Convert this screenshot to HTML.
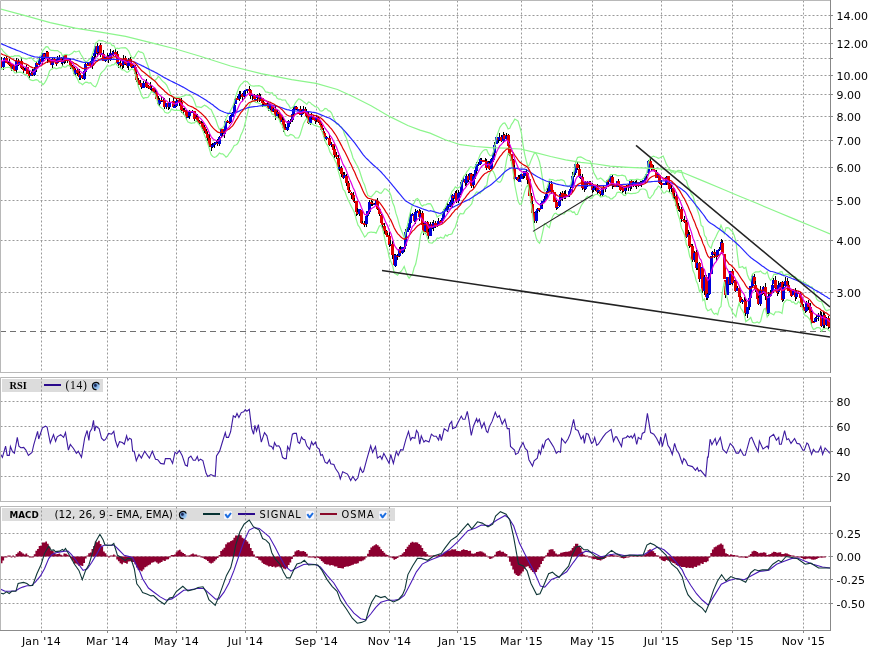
<!DOCTYPE html>
<html><head><meta charset="utf-8"><title>Chart</title>
<style>html,body{margin:0;padding:0;background:#fff;} svg{display:block;}</style>
</head><body><svg width="876" height="655" viewBox="0 0 876 655" shape-rendering="auto"><rect x="0" y="0" width="876" height="655" fill="#fff"/><line x1="0.5" y1="15.5" x2="830" y2="15.5" stroke="#9a9a9a" stroke-width="1" stroke-dasharray="2,2"/><line x1="0.5" y1="28.5" x2="830" y2="28.5" stroke="#9a9a9a" stroke-width="1" stroke-dasharray="2,2"/><line x1="0.5" y1="43.5" x2="830" y2="43.5" stroke="#9a9a9a" stroke-width="1" stroke-dasharray="2,2"/><line x1="0.5" y1="58.5" x2="830" y2="58.5" stroke="#9a9a9a" stroke-width="1" stroke-dasharray="2,2"/><line x1="0.5" y1="75.5" x2="830" y2="75.5" stroke="#9a9a9a" stroke-width="1" stroke-dasharray="2,2"/><line x1="0.5" y1="94.5" x2="830" y2="94.5" stroke="#9a9a9a" stroke-width="1" stroke-dasharray="2,2"/><line x1="0.5" y1="116.5" x2="830" y2="116.5" stroke="#9a9a9a" stroke-width="1" stroke-dasharray="2,2"/><line x1="0.5" y1="140.5" x2="830" y2="140.5" stroke="#9a9a9a" stroke-width="1" stroke-dasharray="2,2"/><line x1="0.5" y1="167.5" x2="830" y2="167.5" stroke="#9a9a9a" stroke-width="1" stroke-dasharray="2,2"/><line x1="0.5" y1="200.5" x2="830" y2="200.5" stroke="#9a9a9a" stroke-width="1" stroke-dasharray="2,2"/><line x1="0.5" y1="240.5" x2="830" y2="240.5" stroke="#9a9a9a" stroke-width="1" stroke-dasharray="2,2"/><line x1="0.5" y1="292.5" x2="830" y2="292.5" stroke="#9a9a9a" stroke-width="1" stroke-dasharray="2,2"/><line x1="41.5" y1="0.5" x2="41.5" y2="372" stroke="#9a9a9a" stroke-width="1" stroke-dasharray="2,2"/><line x1="107.5" y1="0.5" x2="107.5" y2="372" stroke="#9a9a9a" stroke-width="1" stroke-dasharray="2,2"/><line x1="176.5" y1="0.5" x2="176.5" y2="372" stroke="#9a9a9a" stroke-width="1" stroke-dasharray="2,2"/><line x1="245.5" y1="0.5" x2="245.5" y2="372" stroke="#9a9a9a" stroke-width="1" stroke-dasharray="2,2"/><line x1="316.5" y1="0.5" x2="316.5" y2="372" stroke="#9a9a9a" stroke-width="1" stroke-dasharray="2,2"/><line x1="389.5" y1="0.5" x2="389.5" y2="372" stroke="#9a9a9a" stroke-width="1" stroke-dasharray="2,2"/><line x1="457.5" y1="0.5" x2="457.5" y2="372" stroke="#9a9a9a" stroke-width="1" stroke-dasharray="2,2"/><line x1="521.5" y1="0.5" x2="521.5" y2="372" stroke="#9a9a9a" stroke-width="1" stroke-dasharray="2,2"/><line x1="592.5" y1="0.5" x2="592.5" y2="372" stroke="#9a9a9a" stroke-width="1" stroke-dasharray="2,2"/><line x1="661.5" y1="0.5" x2="661.5" y2="372" stroke="#9a9a9a" stroke-width="1" stroke-dasharray="2,2"/><line x1="732.5" y1="0.5" x2="732.5" y2="372" stroke="#9a9a9a" stroke-width="1" stroke-dasharray="2,2"/><line x1="803.5" y1="0.5" x2="803.5" y2="372" stroke="#9a9a9a" stroke-width="1" stroke-dasharray="2,2"/><defs><radialGradient id="glb" cx="0.4" cy="0.4" r="0.7"><stop offset="0" stop-color="#3a5a98"/><stop offset="0.45" stop-color="#80b0e0"/><stop offset="1" stop-color="#b8dcff"/></radialGradient><clipPath id="cm"><rect x="1" y="1" width="829" height="371"/></clipPath><clipPath id="cr"><rect x="1" y="378" width="829" height="123"/></clipPath><clipPath id="cd"><rect x="1" y="507" width="829" height="123"/></clipPath></defs><g clip-path="url(#cm)"><line x1="0" y1="331.5" x2="830" y2="331.5" stroke="#707070" stroke-width="1" stroke-dasharray="6,4"/><g shape-rendering="crispEdges"><path d="M-0.5,57V69" stroke="#000"/><path d="M-2,61h3V65h-3Z" fill="#0000d8"/><path d="M1.5,57V68" stroke="#000"/><path d="M0,61h3V67h-3Z" fill="#e00000"/><path d="M3.5,61V70" stroke="#000"/><path d="M2,61h3V67h-3Z" fill="#0000d8"/><path d="M4.5,57V61" stroke="#000"/><path d="M3,58h3V61h-3Z" fill="#0000d8"/><path d="M6.5,56V63" stroke="#000"/><path d="M5,58h3V63h-3Z" fill="#e00000"/><path d="M8.5,61V64" stroke="#000"/><path d="M7,63h3V64h-3Z" fill="#e00000"/><path d="M9.5,59V66" stroke="#000"/><path d="M8,63h3V65h-3Z" fill="#e00000"/><path d="M11.5,64V71" stroke="#000"/><path d="M10,64h3V69h-3Z" fill="#e00000"/><path d="M13.5,65V69" stroke="#000"/><path d="M12,66h3V69h-3Z" fill="#0000d8"/><path d="M14.5,66V71" stroke="#000"/><path d="M13,66h3V71h-3Z" fill="#e00000"/><path d="M16.5,58V73" stroke="#000"/><path d="M15,61h3V70h-3Z" fill="#0000d8"/><path d="M18.5,59V66" stroke="#000"/><path d="M17,61h3V64h-3Z" fill="#e00000"/><path d="M19.5,62V65" stroke="#000"/><path d="M18,62h3V64h-3Z" fill="#0000d8"/><path d="M21.5,57V69" stroke="#000"/><path d="M20,61h3V68h-3Z" fill="#e00000"/><path d="M23.5,67V73" stroke="#000"/><path d="M22,68h3V70h-3Z" fill="#e00000"/><path d="M24.5,68V71" stroke="#000"/><path d="M23,70h3V71h-3Z" fill="#e00000"/><path d="M26.5,65V71" stroke="#000"/><path d="M25,67h3V71h-3Z" fill="#0000d8"/><path d="M27.5,67V74" stroke="#000"/><path d="M26,67h3V74h-3Z" fill="#e00000"/><path d="M29.5,71V78" stroke="#000"/><path d="M28,74h3V76h-3Z" fill="#e00000"/><path d="M31.5,72V76" stroke="#000"/><path d="M30,73h3V76h-3Z" fill="#0000d8"/><path d="M32.5,69V76" stroke="#000"/><path d="M31,73h3V75h-3Z" fill="#e00000"/><path d="M34.5,67V76" stroke="#000"/><path d="M33,69h3V75h-3Z" fill="#0000d8"/><path d="M36.5,62V72" stroke="#000"/><path d="M35,63h3V69h-3Z" fill="#0000d8"/><path d="M37.5,63V65" stroke="#000"/><path d="M36,63h3V65h-3Z" fill="#e00000"/><path d="M39.5,56V66" stroke="#000"/><path d="M38,59h3V64h-3Z" fill="#0000d8"/><path d="M41.5,58V62" stroke="#000"/><path d="M40,59h3V62h-3Z" fill="#e00000"/><path d="M42.5,53V64" stroke="#000"/><path d="M41,53h3V62h-3Z" fill="#0000d8"/><path d="M44.5,53V59" stroke="#000"/><path d="M43,54h3V57h-3Z" fill="#e00000"/><path d="M46.5,51V59" stroke="#000"/><path d="M45,53h3V57h-3Z" fill="#0000d8"/><path d="M47.5,51V63" stroke="#000"/><path d="M46,52h3V59h-3Z" fill="#e00000"/><path d="M49.5,58V62" stroke="#000"/><path d="M48,59h3V62h-3Z" fill="#e00000"/><path d="M51.5,59V65" stroke="#000"/><path d="M50,61h3V65h-3Z" fill="#e00000"/><path d="M52.5,57V68" stroke="#000"/><path d="M51,59h3V65h-3Z" fill="#0000d8"/><path d="M54.5,57V62" stroke="#000"/><path d="M53,59h3V62h-3Z" fill="#e00000"/><path d="M56.5,60V66" stroke="#000"/><path d="M55,62h3V64h-3Z" fill="#e00000"/><path d="M57.5,56V63" stroke="#000"/><path d="M56,59h3V63h-3Z" fill="#0000d8"/><path d="M59.5,55V62" stroke="#000"/><path d="M58,58h3V60h-3Z" fill="#0000d8"/><path d="M61.5,57V64" stroke="#000"/><path d="M60,58h3V62h-3Z" fill="#e00000"/><path d="M62.5,58V66" stroke="#000"/><path d="M61,62h3V63h-3Z" fill="#0000d8"/><path d="M64.5,55V64" stroke="#000"/><path d="M63,55h3V62h-3Z" fill="#0000d8"/><path d="M65.5,54V63" stroke="#000"/><path d="M64,55h3V59h-3Z" fill="#e00000"/><path d="M67.5,59V63" stroke="#000"/><path d="M66,59h3V60h-3Z" fill="#e00000"/><path d="M69.5,59V64" stroke="#000"/><path d="M68,60h3V61h-3Z" fill="#e00000"/><path d="M70.5,59V69" stroke="#000"/><path d="M69,62h3V66h-3Z" fill="#e00000"/><path d="M72.5,65V70" stroke="#000"/><path d="M71,66h3V68h-3Z" fill="#e00000"/><path d="M74.5,67V75" stroke="#000"/><path d="M73,68h3V74h-3Z" fill="#e00000"/><path d="M75.5,69V76" stroke="#000"/><path d="M74,70h3V74h-3Z" fill="#0000d8"/><path d="M77.5,68V76" stroke="#000"/><path d="M76,70h3V73h-3Z" fill="#e00000"/><path d="M79.5,69V80" stroke="#000"/><path d="M78,73h3V77h-3Z" fill="#e00000"/><path d="M80.5,75V80" stroke="#000"/><path d="M79,75h3V78h-3Z" fill="#0000d8"/><path d="M82.5,75V79" stroke="#000"/><path d="M81,75h3V78h-3Z" fill="#e00000"/><path d="M84.5,69V80" stroke="#000"/><path d="M83,71h3V79h-3Z" fill="#0000d8"/><path d="M85.5,63V76" stroke="#000"/><path d="M84,64h3V72h-3Z" fill="#0000d8"/><path d="M87.5,62V66" stroke="#000"/><path d="M86,64h3V66h-3Z" fill="#e00000"/><path d="M89.5,62V65" stroke="#000"/><path d="M88,63h3V65h-3Z" fill="#0000d8"/><path d="M90.5,61V68" stroke="#000"/><path d="M89,63h3V66h-3Z" fill="#e00000"/><path d="M92.5,56V69" stroke="#000"/><path d="M91,57h3V66h-3Z" fill="#0000d8"/><path d="M94.5,50V59" stroke="#000"/><path d="M93,53h3V56h-3Z" fill="#0000d8"/><path d="M95.5,46V57" stroke="#000"/><path d="M94,46h3V54h-3Z" fill="#0000d8"/><path d="M97.5,43V57" stroke="#000"/><path d="M96,46h3V53h-3Z" fill="#e00000"/><path d="M98.5,46V54" stroke="#000"/><path d="M97,46h3V52h-3Z" fill="#0000d8"/><path d="M100.5,43V57" stroke="#000"/><path d="M99,45h3V55h-3Z" fill="#e00000"/><path d="M102.5,53V54" stroke="#000"/><path d="M101,53h3V55h-3Z" fill="#0000d8"/><path d="M103.5,50V61" stroke="#000"/><path d="M102,54h3V61h-3Z" fill="#e00000"/><path d="M105.5,57V62" stroke="#000"/><path d="M104,57h3V61h-3Z" fill="#0000d8"/><path d="M107.5,53V60" stroke="#000"/><path d="M106,57h3V59h-3Z" fill="#e00000"/><path d="M108.5,55V63" stroke="#000"/><path d="M107,59h3V60h-3Z" fill="#0000d8"/><path d="M110.5,49V61" stroke="#000"/><path d="M109,53h3V59h-3Z" fill="#0000d8"/><path d="M112.5,51V55" stroke="#000"/><path d="M111,53h3V54h-3Z" fill="#e00000"/><path d="M113.5,50V56" stroke="#000"/><path d="M112,52h3V54h-3Z" fill="#0000d8"/><path d="M115.5,48V56" stroke="#000"/><path d="M114,52h3V55h-3Z" fill="#e00000"/><path d="M117.5,51V63" stroke="#000"/><path d="M116,54h3V63h-3Z" fill="#e00000"/><path d="M118.5,62V68" stroke="#000"/><path d="M117,62h3V64h-3Z" fill="#0000d8"/><path d="M120.5,59V68" stroke="#000"/><path d="M119,63h3V65h-3Z" fill="#e00000"/><path d="M122.5,63V69" stroke="#000"/><path d="M121,65h3V66h-3Z" fill="#e00000"/><path d="M123.5,55V68" stroke="#000"/><path d="M122,59h3V65h-3Z" fill="#0000d8"/><path d="M125.5,56V65" stroke="#000"/><path d="M124,58h3V64h-3Z" fill="#e00000"/><path d="M127.5,63V68" stroke="#000"/><path d="M126,64h3V66h-3Z" fill="#e00000"/><path d="M128.5,58V70" stroke="#000"/><path d="M127,60h3V66h-3Z" fill="#0000d8"/><path d="M130.5,57V65" stroke="#000"/><path d="M129,59h3V63h-3Z" fill="#e00000"/><path d="M131.5,60V68" stroke="#000"/><path d="M130,63h3V67h-3Z" fill="#e00000"/><path d="M133.5,65V68" stroke="#000"/><path d="M132,66h3V68h-3Z" fill="#0000d8"/><path d="M135.5,65V76" stroke="#000"/><path d="M134,67h3V74h-3Z" fill="#e00000"/><path d="M136.5,72V82" stroke="#000"/><path d="M135,74h3V80h-3Z" fill="#e00000"/><path d="M138.5,78V85" stroke="#000"/><path d="M137,80h3V84h-3Z" fill="#e00000"/><path d="M140.5,80V85" stroke="#000"/><path d="M139,83h3V85h-3Z" fill="#e00000"/><path d="M141.5,84V89" stroke="#000"/><path d="M140,84h3V87h-3Z" fill="#e00000"/><path d="M143.5,81V88" stroke="#000"/><path d="M142,83h3V88h-3Z" fill="#0000d8"/><path d="M145.5,81V83" stroke="#000"/><path d="M144,83h3V84h-3Z" fill="#0000d8"/><path d="M146.5,79V88" stroke="#000"/><path d="M145,83h3V87h-3Z" fill="#e00000"/><path d="M148.5,85V89" stroke="#000"/><path d="M147,86h3V88h-3Z" fill="#e00000"/><path d="M150.5,82V90" stroke="#000"/><path d="M149,86h3V89h-3Z" fill="#e00000"/><path d="M151.5,85V92" stroke="#000"/><path d="M150,88h3V89h-3Z" fill="#0000d8"/><path d="M153.5,88V93" stroke="#000"/><path d="M152,88h3V92h-3Z" fill="#e00000"/><path d="M155.5,89V93" stroke="#000"/><path d="M154,92h3V93h-3Z" fill="#0000d8"/><path d="M156.5,90V99" stroke="#000"/><path d="M155,92h3V99h-3Z" fill="#e00000"/><path d="M158.5,96V105" stroke="#000"/><path d="M157,99h3V104h-3Z" fill="#e00000"/><path d="M159.5,98V106" stroke="#000"/><path d="M158,100h3V104h-3Z" fill="#0000d8"/><path d="M161.5,97V102" stroke="#000"/><path d="M160,100h3V101h-3Z" fill="#e00000"/><path d="M163.5,98V102" stroke="#000"/><path d="M162,101h3V102h-3Z" fill="#0000d8"/><path d="M164.5,98V109" stroke="#000"/><path d="M163,100h3V107h-3Z" fill="#e00000"/><path d="M166.5,103V109" stroke="#000"/><path d="M165,103h3V107h-3Z" fill="#0000d8"/><path d="M168.5,102V110" stroke="#000"/><path d="M167,103h3V107h-3Z" fill="#e00000"/><path d="M169.5,98V109" stroke="#000"/><path d="M168,102h3V107h-3Z" fill="#0000d8"/><path d="M171.5,102V103" stroke="#000"/><path d="M170,102h3V103h-3Z" fill="#0000d8"/><path d="M173.5,98V107" stroke="#000"/><path d="M172,101h3V107h-3Z" fill="#e00000"/><path d="M174.5,104V108" stroke="#000"/><path d="M173,106h3V108h-3Z" fill="#0000d8"/><path d="M176.5,98V107" stroke="#000"/><path d="M175,101h3V106h-3Z" fill="#0000d8"/><path d="M178.5,100V103" stroke="#000"/><path d="M177,100h3V101h-3Z" fill="#0000d8"/><path d="M179.5,99V106" stroke="#000"/><path d="M178,100h3V102h-3Z" fill="#e00000"/><path d="M181.5,98V113" stroke="#000"/><path d="M180,102h3V110h-3Z" fill="#e00000"/><path d="M183.5,108V115" stroke="#000"/><path d="M182,110h3V111h-3Z" fill="#e00000"/><path d="M184.5,108V112" stroke="#000"/><path d="M183,110h3V112h-3Z" fill="#e00000"/><path d="M186.5,110V120" stroke="#000"/><path d="M185,111h3V117h-3Z" fill="#e00000"/><path d="M188.5,114V117" stroke="#000"/><path d="M187,117h3V118h-3Z" fill="#0000d8"/><path d="M189.5,110V119" stroke="#000"/><path d="M188,111h3V116h-3Z" fill="#0000d8"/><path d="M191.5,112V112" stroke="#000"/><path d="M190,112h3V113h-3Z" fill="#e00000"/><path d="M192.5,110V112" stroke="#000"/><path d="M191,112h3V113h-3Z" fill="#0000d8"/><path d="M194.5,111V121" stroke="#000"/><path d="M193,111h3V119h-3Z" fill="#e00000"/><path d="M196.5,114V122" stroke="#000"/><path d="M195,117h3V118h-3Z" fill="#0000d8"/><path d="M197.5,114V122" stroke="#000"/><path d="M196,117h3V121h-3Z" fill="#e00000"/><path d="M199.5,120V125" stroke="#000"/><path d="M198,121h3V123h-3Z" fill="#e00000"/><path d="M201.5,121V125" stroke="#000"/><path d="M200,123h3V124h-3Z" fill="#e00000"/><path d="M202.5,122V129" stroke="#000"/><path d="M201,123h3V128h-3Z" fill="#e00000"/><path d="M204.5,125V133" stroke="#000"/><path d="M203,127h3V131h-3Z" fill="#e00000"/><path d="M206.5,129V135" stroke="#000"/><path d="M205,131h3V134h-3Z" fill="#e00000"/><path d="M207.5,132V141" stroke="#000"/><path d="M206,134h3V138h-3Z" fill="#e00000"/><path d="M209.5,134V147" stroke="#000"/><path d="M208,138h3V146h-3Z" fill="#e00000"/><path d="M211.5,144V151" stroke="#000"/><path d="M210,146h3V147h-3Z" fill="#e00000"/><path d="M212.5,143V148" stroke="#000"/><path d="M211,145h3V147h-3Z" fill="#0000d8"/><path d="M214.5,142V148" stroke="#000"/><path d="M213,143h3V145h-3Z" fill="#0000d8"/><path d="M216.5,140V144" stroke="#000"/><path d="M215,142h3V144h-3Z" fill="#0000d8"/><path d="M217.5,139V146" stroke="#000"/><path d="M216,143h3V144h-3Z" fill="#e00000"/><path d="M219.5,136V146" stroke="#000"/><path d="M218,137h3V144h-3Z" fill="#0000d8"/><path d="M221.5,128V138" stroke="#000"/><path d="M220,129h3V136h-3Z" fill="#0000d8"/><path d="M222.5,129V136" stroke="#000"/><path d="M221,129h3V133h-3Z" fill="#e00000"/><path d="M224.5,128V138" stroke="#000"/><path d="M223,130h3V134h-3Z" fill="#0000d8"/><path d="M225.5,119V133" stroke="#000"/><path d="M224,121h3V130h-3Z" fill="#0000d8"/><path d="M227.5,120V123" stroke="#000"/><path d="M226,121h3V122h-3Z" fill="#e00000"/><path d="M229.5,118V124" stroke="#000"/><path d="M228,121h3V123h-3Z" fill="#e00000"/><path d="M230.5,115V123" stroke="#000"/><path d="M229,116h3V122h-3Z" fill="#0000d8"/><path d="M232.5,112V117" stroke="#000"/><path d="M231,114h3V117h-3Z" fill="#0000d8"/><path d="M234.5,103V113" stroke="#000"/><path d="M233,105h3V113h-3Z" fill="#0000d8"/><path d="M235.5,97V104" stroke="#000"/><path d="M234,99h3V104h-3Z" fill="#0000d8"/><path d="M237.5,96V100" stroke="#000"/><path d="M236,98h3V100h-3Z" fill="#e00000"/><path d="M239.5,91V101" stroke="#000"/><path d="M238,94h3V99h-3Z" fill="#0000d8"/><path d="M240.5,91V99" stroke="#000"/><path d="M239,94h3V95h-3Z" fill="#0000d8"/><path d="M242.5,93V101" stroke="#000"/><path d="M241,94h3V97h-3Z" fill="#e00000"/><path d="M244.5,91V99" stroke="#000"/><path d="M243,91h3V96h-3Z" fill="#0000d8"/><path d="M245.5,90V94" stroke="#000"/><path d="M244,90h3V91h-3Z" fill="#0000d8"/><path d="M247.5,89V93" stroke="#000"/><path d="M246,89h3V91h-3Z" fill="#0000d8"/><path d="M249.5,86V90" stroke="#000"/><path d="M248,89h3V91h-3Z" fill="#e00000"/><path d="M250.5,89V99" stroke="#000"/><path d="M249,90h3V96h-3Z" fill="#e00000"/><path d="M252.5,95V100" stroke="#000"/><path d="M251,95h3V96h-3Z" fill="#0000d8"/><path d="M254.5,94V99" stroke="#000"/><path d="M253,95h3V99h-3Z" fill="#e00000"/><path d="M255.5,99V101" stroke="#000"/><path d="M254,99h3V100h-3Z" fill="#0000d8"/><path d="M257.5,94V102" stroke="#000"/><path d="M256,95h3V98h-3Z" fill="#0000d8"/><path d="M259.5,93V102" stroke="#000"/><path d="M258,95h3V99h-3Z" fill="#e00000"/><path d="M260.5,94V101" stroke="#000"/><path d="M259,98h3V99h-3Z" fill="#0000d8"/><path d="M262.5,98V107" stroke="#000"/><path d="M261,98h3V103h-3Z" fill="#e00000"/><path d="M263.5,101V106" stroke="#000"/><path d="M262,102h3V104h-3Z" fill="#e00000"/><path d="M265.5,103V105" stroke="#000"/><path d="M264,103h3V105h-3Z" fill="#e00000"/><path d="M267.5,101V107" stroke="#000"/><path d="M266,105h3V106h-3Z" fill="#e00000"/><path d="M268.5,103V111" stroke="#000"/><path d="M267,104h3V108h-3Z" fill="#e00000"/><path d="M270.5,104V111" stroke="#000"/><path d="M269,105h3V109h-3Z" fill="#0000d8"/><path d="M272.5,105V112" stroke="#000"/><path d="M271,106h3V112h-3Z" fill="#e00000"/><path d="M273.5,108V112" stroke="#000"/><path d="M272,109h3V111h-3Z" fill="#0000d8"/><path d="M275.5,105V120" stroke="#000"/><path d="M274,109h3V116h-3Z" fill="#e00000"/><path d="M277.5,110V116" stroke="#000"/><path d="M276,112h3V116h-3Z" fill="#0000d8"/><path d="M278.5,112V118" stroke="#000"/><path d="M277,112h3V114h-3Z" fill="#e00000"/><path d="M280.5,113V123" stroke="#000"/><path d="M279,114h3V121h-3Z" fill="#e00000"/><path d="M282.5,116V122" stroke="#000"/><path d="M281,120h3V122h-3Z" fill="#0000d8"/><path d="M283.5,117V132" stroke="#000"/><path d="M282,120h3V128h-3Z" fill="#e00000"/><path d="M285.5,124V130" stroke="#000"/><path d="M284,128h3V130h-3Z" fill="#e00000"/><path d="M287.5,125V131" stroke="#000"/><path d="M286,127h3V130h-3Z" fill="#0000d8"/><path d="M288.5,120V128" stroke="#000"/><path d="M287,121h3V127h-3Z" fill="#0000d8"/><path d="M290.5,119V124" stroke="#000"/><path d="M289,121h3V122h-3Z" fill="#0000d8"/><path d="M292.5,113V122" stroke="#000"/><path d="M291,114h3V120h-3Z" fill="#0000d8"/><path d="M293.5,107V118" stroke="#000"/><path d="M292,109h3V114h-3Z" fill="#0000d8"/><path d="M295.5,106V110" stroke="#000"/><path d="M294,106h3V110h-3Z" fill="#0000d8"/><path d="M296.5,106V110" stroke="#000"/><path d="M295,107h3V109h-3Z" fill="#e00000"/><path d="M298.5,109V110" stroke="#000"/><path d="M297,109h3V111h-3Z" fill="#0000d8"/><path d="M300.5,106V115" stroke="#000"/><path d="M299,109h3V115h-3Z" fill="#e00000"/><path d="M301.5,110V117" stroke="#000"/><path d="M300,111h3V115h-3Z" fill="#0000d8"/><path d="M303.5,106V114" stroke="#000"/><path d="M302,109h3V111h-3Z" fill="#0000d8"/><path d="M305.5,107V114" stroke="#000"/><path d="M304,109h3V112h-3Z" fill="#e00000"/><path d="M306.5,109V118" stroke="#000"/><path d="M305,112h3V116h-3Z" fill="#e00000"/><path d="M308.5,112V124" stroke="#000"/><path d="M307,115h3V123h-3Z" fill="#e00000"/><path d="M310.5,116V125" stroke="#000"/><path d="M309,117h3V123h-3Z" fill="#0000d8"/><path d="M311.5,113V119" stroke="#000"/><path d="M310,116h3V118h-3Z" fill="#0000d8"/><path d="M313.5,115V120" stroke="#000"/><path d="M312,117h3V120h-3Z" fill="#e00000"/><path d="M315.5,118V124" stroke="#000"/><path d="M314,119h3V121h-3Z" fill="#e00000"/><path d="M316.5,115V122" stroke="#000"/><path d="M315,117h3V120h-3Z" fill="#0000d8"/><path d="M318.5,117V123" stroke="#000"/><path d="M317,118h3V122h-3Z" fill="#e00000"/><path d="M320.5,120V126" stroke="#000"/><path d="M319,122h3V125h-3Z" fill="#e00000"/><path d="M321.5,124V131" stroke="#000"/><path d="M320,125h3V130h-3Z" fill="#e00000"/><path d="M323.5,128V135" stroke="#000"/><path d="M322,131h3V133h-3Z" fill="#e00000"/><path d="M324.5,132V141" stroke="#000"/><path d="M323,133h3V137h-3Z" fill="#e00000"/><path d="M326.5,136V140" stroke="#000"/><path d="M325,137h3V139h-3Z" fill="#0000d8"/><path d="M328.5,138V139" stroke="#000"/><path d="M327,138h3V139h-3Z" fill="#e00000"/><path d="M329.5,135V146" stroke="#000"/><path d="M328,138h3V145h-3Z" fill="#e00000"/><path d="M331.5,142V147" stroke="#000"/><path d="M330,144h3V145h-3Z" fill="#0000d8"/><path d="M333.5,144V151" stroke="#000"/><path d="M332,144h3V150h-3Z" fill="#e00000"/><path d="M334.5,146V158" stroke="#000"/><path d="M333,149h3V155h-3Z" fill="#e00000"/><path d="M336.5,152V159" stroke="#000"/><path d="M335,155h3V157h-3Z" fill="#e00000"/><path d="M338.5,155V170" stroke="#000"/><path d="M337,158h3V167h-3Z" fill="#e00000"/><path d="M339.5,165V171" stroke="#000"/><path d="M338,167h3V169h-3Z" fill="#0000d8"/><path d="M341.5,166V177" stroke="#000"/><path d="M340,168h3V174h-3Z" fill="#e00000"/><path d="M343.5,172V179" stroke="#000"/><path d="M342,174h3V178h-3Z" fill="#e00000"/><path d="M344.5,172V178" stroke="#000"/><path d="M343,175h3V178h-3Z" fill="#0000d8"/><path d="M346.5,174V186" stroke="#000"/><path d="M345,176h3V183h-3Z" fill="#e00000"/><path d="M348.5,181V193" stroke="#000"/><path d="M347,183h3V190h-3Z" fill="#e00000"/><path d="M349.5,187V193" stroke="#000"/><path d="M348,190h3V192h-3Z" fill="#e00000"/><path d="M351.5,192V199" stroke="#000"/><path d="M350,193h3V195h-3Z" fill="#e00000"/><path d="M353.5,192V201" stroke="#000"/><path d="M352,195h3V200h-3Z" fill="#e00000"/><path d="M354.5,198V203" stroke="#000"/><path d="M353,201h3V202h-3Z" fill="#e00000"/><path d="M356.5,201V216" stroke="#000"/><path d="M355,201h3V212h-3Z" fill="#e00000"/><path d="M357.5,208V215" stroke="#000"/><path d="M356,212h3V214h-3Z" fill="#e00000"/><path d="M359.5,209V216" stroke="#000"/><path d="M358,209h3V214h-3Z" fill="#0000d8"/><path d="M361.5,210V224" stroke="#000"/><path d="M360,210h3V223h-3Z" fill="#e00000"/><path d="M362.5,221V224" stroke="#000"/><path d="M361,223h3V224h-3Z" fill="#e00000"/><path d="M364.5,221V227" stroke="#000"/><path d="M363,223h3V225h-3Z" fill="#e00000"/><path d="M366.5,215V227" stroke="#000"/><path d="M365,216h3V224h-3Z" fill="#0000d8"/><path d="M367.5,211V217" stroke="#000"/><path d="M366,211h3V216h-3Z" fill="#0000d8"/><path d="M369.5,200V214" stroke="#000"/><path d="M368,202h3V212h-3Z" fill="#0000d8"/><path d="M371.5,200V206" stroke="#000"/><path d="M370,202h3V204h-3Z" fill="#e00000"/><path d="M372.5,201V206" stroke="#000"/><path d="M371,203h3V204h-3Z" fill="#e00000"/><path d="M374.5,203V205" stroke="#000"/><path d="M373,204h3V205h-3Z" fill="#0000d8"/><path d="M376.5,200V204" stroke="#000"/><path d="M375,200h3V204h-3Z" fill="#0000d8"/><path d="M377.5,198V210" stroke="#000"/><path d="M376,201h3V209h-3Z" fill="#e00000"/><path d="M379.5,208V216" stroke="#000"/><path d="M378,209h3V214h-3Z" fill="#e00000"/><path d="M381.5,214V223" stroke="#000"/><path d="M380,215h3V223h-3Z" fill="#e00000"/><path d="M382.5,223V229" stroke="#000"/><path d="M381,223h3V225h-3Z" fill="#e00000"/><path d="M384.5,223V234" stroke="#000"/><path d="M383,226h3V231h-3Z" fill="#e00000"/><path d="M386.5,230V236" stroke="#000"/><path d="M385,231h3V235h-3Z" fill="#e00000"/><path d="M387.5,233V237" stroke="#000"/><path d="M386,235h3V237h-3Z" fill="#e00000"/><path d="M389.5,232V247" stroke="#000"/><path d="M388,236h3V245h-3Z" fill="#e00000"/><path d="M390.5,240V246" stroke="#000"/><path d="M389,244h3V245h-3Z" fill="#0000d8"/><path d="M392.5,241V259" stroke="#000"/><path d="M391,244h3V255h-3Z" fill="#e00000"/><path d="M394.5,254V266" stroke="#000"/><path d="M393,255h3V265h-3Z" fill="#e00000"/><path d="M395.5,254V267" stroke="#000"/><path d="M394,255h3V266h-3Z" fill="#0000d8"/><path d="M397.5,254V260" stroke="#000"/><path d="M396,256h3V257h-3Z" fill="#e00000"/><path d="M399.5,247V257" stroke="#000"/><path d="M398,249h3V256h-3Z" fill="#0000d8"/><path d="M400.5,246V253" stroke="#000"/><path d="M399,250h3V253h-3Z" fill="#e00000"/><path d="M402.5,247V254" stroke="#000"/><path d="M401,247h3V253h-3Z" fill="#0000d8"/><path d="M404.5,246V252" stroke="#000"/><path d="M403,247h3V249h-3Z" fill="#0000d8"/><path d="M405.5,229V247" stroke="#000"/><path d="M404,232h3V246h-3Z" fill="#0000d8"/><path d="M407.5,227V232" stroke="#000"/><path d="M406,228h3V232h-3Z" fill="#0000d8"/><path d="M409.5,222V230" stroke="#000"/><path d="M408,223h3V228h-3Z" fill="#0000d8"/><path d="M410.5,212V224" stroke="#000"/><path d="M409,216h3V223h-3Z" fill="#0000d8"/><path d="M412.5,213V216" stroke="#000"/><path d="M411,214h3V216h-3Z" fill="#0000d8"/><path d="M414.5,213V222" stroke="#000"/><path d="M413,215h3V221h-3Z" fill="#e00000"/><path d="M415.5,209V224" stroke="#000"/><path d="M414,212h3V221h-3Z" fill="#0000d8"/><path d="M417.5,210V213" stroke="#000"/><path d="M416,211h3V213h-3Z" fill="#0000d8"/><path d="M419.5,209V221" stroke="#000"/><path d="M418,211h3V217h-3Z" fill="#e00000"/><path d="M420.5,210V218" stroke="#000"/><path d="M419,214h3V217h-3Z" fill="#0000d8"/><path d="M422.5,211V228" stroke="#000"/><path d="M421,213h3V225h-3Z" fill="#e00000"/><path d="M423.5,223V235" stroke="#000"/><path d="M422,225h3V232h-3Z" fill="#e00000"/><path d="M425.5,221V234" stroke="#000"/><path d="M424,222h3V231h-3Z" fill="#0000d8"/><path d="M427.5,221V234" stroke="#000"/><path d="M426,222h3V233h-3Z" fill="#e00000"/><path d="M428.5,229V239" stroke="#000"/><path d="M427,232h3V236h-3Z" fill="#e00000"/><path d="M430.5,222V236" stroke="#000"/><path d="M429,224h3V236h-3Z" fill="#0000d8"/><path d="M432.5,222V229" stroke="#000"/><path d="M431,224h3V228h-3Z" fill="#e00000"/><path d="M433.5,220V231" stroke="#000"/><path d="M432,223h3V228h-3Z" fill="#0000d8"/><path d="M435.5,221V228" stroke="#000"/><path d="M434,223h3V225h-3Z" fill="#e00000"/><path d="M437.5,223V227" stroke="#000"/><path d="M436,225h3V226h-3Z" fill="#e00000"/><path d="M438.5,218V226" stroke="#000"/><path d="M437,221h3V225h-3Z" fill="#0000d8"/><path d="M440.5,220V221" stroke="#000"/><path d="M439,221h3V223h-3Z" fill="#e00000"/><path d="M442.5,218V223" stroke="#000"/><path d="M441,218h3V221h-3Z" fill="#0000d8"/><path d="M443.5,209V219" stroke="#000"/><path d="M442,211h3V219h-3Z" fill="#0000d8"/><path d="M445.5,207V211" stroke="#000"/><path d="M444,209h3V211h-3Z" fill="#0000d8"/><path d="M447.5,202V212" stroke="#000"/><path d="M446,206h3V209h-3Z" fill="#0000d8"/><path d="M448.5,204V208" stroke="#000"/><path d="M447,205h3V207h-3Z" fill="#0000d8"/><path d="M450.5,200V207" stroke="#000"/><path d="M449,202h3V206h-3Z" fill="#0000d8"/><path d="M452.5,194V207" stroke="#000"/><path d="M451,195h3V203h-3Z" fill="#0000d8"/><path d="M453.5,196V201" stroke="#000"/><path d="M452,196h3V198h-3Z" fill="#e00000"/><path d="M455.5,191V199" stroke="#000"/><path d="M454,193h3V199h-3Z" fill="#0000d8"/><path d="M456.5,190V203" stroke="#000"/><path d="M455,193h3V201h-3Z" fill="#e00000"/><path d="M458.5,190V203" stroke="#000"/><path d="M457,193h3V201h-3Z" fill="#0000d8"/><path d="M460.5,188V195" stroke="#000"/><path d="M459,192h3V194h-3Z" fill="#0000d8"/><path d="M461.5,180V192" stroke="#000"/><path d="M460,182h3V192h-3Z" fill="#0000d8"/><path d="M463.5,176V182" stroke="#000"/><path d="M462,179h3V182h-3Z" fill="#0000d8"/><path d="M465.5,177V186" stroke="#000"/><path d="M464,180h3V183h-3Z" fill="#e00000"/><path d="M466.5,174V187" stroke="#000"/><path d="M465,176h3V183h-3Z" fill="#0000d8"/><path d="M468.5,174V182" stroke="#000"/><path d="M467,176h3V180h-3Z" fill="#e00000"/><path d="M470.5,173V183" stroke="#000"/><path d="M469,173h3V180h-3Z" fill="#0000d8"/><path d="M471.5,173V188" stroke="#000"/><path d="M470,174h3V186h-3Z" fill="#e00000"/><path d="M473.5,174V188" stroke="#000"/><path d="M472,176h3V185h-3Z" fill="#0000d8"/><path d="M475.5,169V179" stroke="#000"/><path d="M474,170h3V176h-3Z" fill="#0000d8"/><path d="M476.5,162V174" stroke="#000"/><path d="M475,164h3V171h-3Z" fill="#0000d8"/><path d="M478.5,162V166" stroke="#000"/><path d="M477,164h3V165h-3Z" fill="#0000d8"/><path d="M480.5,158V165" stroke="#000"/><path d="M479,159h3V164h-3Z" fill="#0000d8"/><path d="M481.5,158V161" stroke="#000"/><path d="M480,160h3V161h-3Z" fill="#e00000"/><path d="M483.5,160V162" stroke="#000"/><path d="M482,160h3V162h-3Z" fill="#e00000"/><path d="M485.5,158V163" stroke="#000"/><path d="M484,161h3V162h-3Z" fill="#e00000"/><path d="M486.5,159V170" stroke="#000"/><path d="M485,161h3V168h-3Z" fill="#e00000"/><path d="M488.5,161V168" stroke="#000"/><path d="M487,162h3V167h-3Z" fill="#0000d8"/><path d="M489.5,161V170" stroke="#000"/><path d="M488,163h3V169h-3Z" fill="#e00000"/><path d="M491.5,158V170" stroke="#000"/><path d="M490,159h3V169h-3Z" fill="#0000d8"/><path d="M493.5,152V162" stroke="#000"/><path d="M492,153h3V160h-3Z" fill="#0000d8"/><path d="M494.5,142V156" stroke="#000"/><path d="M493,145h3V153h-3Z" fill="#0000d8"/><path d="M496.5,137V144" stroke="#000"/><path d="M495,137h3V144h-3Z" fill="#0000d8"/><path d="M498.5,137V143" stroke="#000"/><path d="M497,138h3V140h-3Z" fill="#e00000"/><path d="M499.5,133V141" stroke="#000"/><path d="M498,137h3V140h-3Z" fill="#0000d8"/><path d="M501.5,135V142" stroke="#000"/><path d="M500,137h3V141h-3Z" fill="#e00000"/><path d="M503.5,132V143" stroke="#000"/><path d="M502,135h3V141h-3Z" fill="#0000d8"/><path d="M504.5,134V139" stroke="#000"/><path d="M503,135h3V139h-3Z" fill="#e00000"/><path d="M506.5,133V140" stroke="#000"/><path d="M505,136h3V139h-3Z" fill="#0000d8"/><path d="M508.5,134V148" stroke="#000"/><path d="M507,135h3V146h-3Z" fill="#e00000"/><path d="M509.5,142V156" stroke="#000"/><path d="M508,146h3V155h-3Z" fill="#e00000"/><path d="M511.5,154V161" stroke="#000"/><path d="M510,154h3V161h-3Z" fill="#e00000"/><path d="M513.5,159V171" stroke="#000"/><path d="M512,160h3V168h-3Z" fill="#e00000"/><path d="M514.5,165V183" stroke="#000"/><path d="M513,168h3V179h-3Z" fill="#e00000"/><path d="M516.5,177V180" stroke="#000"/><path d="M515,177h3V179h-3Z" fill="#0000d8"/><path d="M518.5,175V182" stroke="#000"/><path d="M517,177h3V181h-3Z" fill="#e00000"/><path d="M519.5,175V182" stroke="#000"/><path d="M518,179h3V182h-3Z" fill="#0000d8"/><path d="M521.5,174V179" stroke="#000"/><path d="M520,174h3V179h-3Z" fill="#0000d8"/><path d="M523.5,174V179" stroke="#000"/><path d="M522,174h3V176h-3Z" fill="#e00000"/><path d="M524.5,171V178" stroke="#000"/><path d="M523,171h3V176h-3Z" fill="#0000d8"/><path d="M526.5,169V175" stroke="#000"/><path d="M525,172h3V173h-3Z" fill="#e00000"/><path d="M527.5,173V184" stroke="#000"/><path d="M526,173h3V180h-3Z" fill="#e00000"/><path d="M529.5,179V196" stroke="#000"/><path d="M528,179h3V196h-3Z" fill="#e00000"/><path d="M531.5,193V205" stroke="#000"/><path d="M530,196h3V203h-3Z" fill="#e00000"/><path d="M532.5,201V215" stroke="#000"/><path d="M531,204h3V213h-3Z" fill="#e00000"/><path d="M534.5,212V223" stroke="#000"/><path d="M533,213h3V221h-3Z" fill="#e00000"/><path d="M536.5,210V223" stroke="#000"/><path d="M535,211h3V221h-3Z" fill="#0000d8"/><path d="M537.5,208V213" stroke="#000"/><path d="M536,209h3V211h-3Z" fill="#0000d8"/><path d="M539.5,208V212" stroke="#000"/><path d="M538,208h3V210h-3Z" fill="#e00000"/><path d="M541.5,201V209" stroke="#000"/><path d="M540,203h3V209h-3Z" fill="#0000d8"/><path d="M542.5,201V206" stroke="#000"/><path d="M541,201h3V203h-3Z" fill="#0000d8"/><path d="M544.5,196V202" stroke="#000"/><path d="M543,199h3V201h-3Z" fill="#0000d8"/><path d="M546.5,191V200" stroke="#000"/><path d="M545,194h3V199h-3Z" fill="#0000d8"/><path d="M547.5,188V193" stroke="#000"/><path d="M546,191h3V193h-3Z" fill="#0000d8"/><path d="M549.5,181V192" stroke="#000"/><path d="M548,184h3V192h-3Z" fill="#0000d8"/><path d="M551.5,181V194" stroke="#000"/><path d="M550,184h3V190h-3Z" fill="#e00000"/><path d="M552.5,190V192" stroke="#000"/><path d="M551,190h3V192h-3Z" fill="#e00000"/><path d="M554.5,192V202" stroke="#000"/><path d="M553,192h3V202h-3Z" fill="#e00000"/><path d="M556.5,200V210" stroke="#000"/><path d="M555,202h3V208h-3Z" fill="#e00000"/><path d="M557.5,207V209" stroke="#000"/><path d="M556,207h3V208h-3Z" fill="#0000d8"/><path d="M559.5,199V207" stroke="#000"/><path d="M558,200h3V206h-3Z" fill="#0000d8"/><path d="M560.5,192V201" stroke="#000"/><path d="M559,194h3V200h-3Z" fill="#0000d8"/><path d="M562.5,191V201" stroke="#000"/><path d="M561,193h3V197h-3Z" fill="#e00000"/><path d="M564.5,191V199" stroke="#000"/><path d="M563,195h3V197h-3Z" fill="#0000d8"/><path d="M565.5,190V199" stroke="#000"/><path d="M564,194h3V196h-3Z" fill="#e00000"/><path d="M567.5,195V196" stroke="#000"/><path d="M566,195h3V197h-3Z" fill="#0000d8"/><path d="M569.5,191V197" stroke="#000"/><path d="M568,191h3V195h-3Z" fill="#0000d8"/><path d="M570.5,187V192" stroke="#000"/><path d="M569,189h3V192h-3Z" fill="#0000d8"/><path d="M572.5,172V192" stroke="#000"/><path d="M571,176h3V188h-3Z" fill="#0000d8"/><path d="M574.5,171V177" stroke="#000"/><path d="M573,173h3V175h-3Z" fill="#0000d8"/><path d="M575.5,161V175" stroke="#000"/><path d="M574,164h3V173h-3Z" fill="#0000d8"/><path d="M577.5,162V170" stroke="#000"/><path d="M576,164h3V168h-3Z" fill="#e00000"/><path d="M579.5,165V176" stroke="#000"/><path d="M578,169h3V176h-3Z" fill="#e00000"/><path d="M580.5,174V179" stroke="#000"/><path d="M579,176h3V178h-3Z" fill="#0000d8"/><path d="M582.5,174V190" stroke="#000"/><path d="M581,177h3V188h-3Z" fill="#e00000"/><path d="M584.5,185V192" stroke="#000"/><path d="M583,187h3V189h-3Z" fill="#e00000"/><path d="M585.5,181V190" stroke="#000"/><path d="M584,182h3V189h-3Z" fill="#0000d8"/><path d="M587.5,181V187" stroke="#000"/><path d="M586,182h3V184h-3Z" fill="#0000d8"/><path d="M589.5,181V184" stroke="#000"/><path d="M588,183h3V184h-3Z" fill="#e00000"/><path d="M590.5,181V185" stroke="#000"/><path d="M589,184h3V185h-3Z" fill="#e00000"/><path d="M592.5,183V193" stroke="#000"/><path d="M591,184h3V190h-3Z" fill="#e00000"/><path d="M593.5,186V192" stroke="#000"/><path d="M592,188h3V190h-3Z" fill="#0000d8"/><path d="M595.5,186V191" stroke="#000"/><path d="M594,186h3V188h-3Z" fill="#0000d8"/><path d="M597.5,184V195" stroke="#000"/><path d="M596,187h3V192h-3Z" fill="#e00000"/><path d="M598.5,190V193" stroke="#000"/><path d="M597,190h3V192h-3Z" fill="#0000d8"/><path d="M600.5,191V197" stroke="#000"/><path d="M599,191h3V194h-3Z" fill="#e00000"/><path d="M602.5,188V196" stroke="#000"/><path d="M601,188h3V195h-3Z" fill="#0000d8"/><path d="M603.5,185V193" stroke="#000"/><path d="M602,188h3V189h-3Z" fill="#e00000"/><path d="M605.5,187V192" stroke="#000"/><path d="M604,187h3V189h-3Z" fill="#0000d8"/><path d="M607.5,180V187" stroke="#000"/><path d="M606,180h3V187h-3Z" fill="#0000d8"/><path d="M608.5,179V184" stroke="#000"/><path d="M607,180h3V182h-3Z" fill="#e00000"/><path d="M610.5,176V183" stroke="#000"/><path d="M609,176h3V182h-3Z" fill="#0000d8"/><path d="M612.5,175V189" stroke="#000"/><path d="M611,177h3V185h-3Z" fill="#e00000"/><path d="M613.5,184V187" stroke="#000"/><path d="M612,184h3V186h-3Z" fill="#0000d8"/><path d="M615.5,185V187" stroke="#000"/><path d="M614,185h3V187h-3Z" fill="#e00000"/><path d="M617.5,181V187" stroke="#000"/><path d="M616,181h3V187h-3Z" fill="#0000d8"/><path d="M618.5,179V187" stroke="#000"/><path d="M617,181h3V186h-3Z" fill="#e00000"/><path d="M620.5,184V191" stroke="#000"/><path d="M619,186h3V190h-3Z" fill="#e00000"/><path d="M622.5,187V193" stroke="#000"/><path d="M621,189h3V190h-3Z" fill="#e00000"/><path d="M623.5,188V192" stroke="#000"/><path d="M622,188h3V191h-3Z" fill="#e00000"/><path d="M625.5,186V194" stroke="#000"/><path d="M624,187h3V191h-3Z" fill="#0000d8"/><path d="M626.5,185V190" stroke="#000"/><path d="M625,186h3V187h-3Z" fill="#0000d8"/><path d="M628.5,184V191" stroke="#000"/><path d="M627,185h3V187h-3Z" fill="#e00000"/><path d="M630.5,181V191" stroke="#000"/><path d="M629,181h3V188h-3Z" fill="#0000d8"/><path d="M631.5,180V189" stroke="#000"/><path d="M630,181h3V186h-3Z" fill="#e00000"/><path d="M633.5,181V187" stroke="#000"/><path d="M632,182h3V186h-3Z" fill="#0000d8"/><path d="M635.5,181V187" stroke="#000"/><path d="M634,183h3V186h-3Z" fill="#e00000"/><path d="M636.5,180V189" stroke="#000"/><path d="M635,183h3V186h-3Z" fill="#0000d8"/><path d="M638.5,182V187" stroke="#000"/><path d="M637,182h3V186h-3Z" fill="#e00000"/><path d="M640.5,181V186" stroke="#000"/><path d="M639,182h3V186h-3Z" fill="#0000d8"/><path d="M641.5,181V187" stroke="#000"/><path d="M640,182h3V184h-3Z" fill="#e00000"/><path d="M643.5,180V183" stroke="#000"/><path d="M642,180h3V183h-3Z" fill="#0000d8"/><path d="M645.5,174V182" stroke="#000"/><path d="M644,176h3V180h-3Z" fill="#0000d8"/><path d="M646.5,173V180" stroke="#000"/><path d="M645,174h3V176h-3Z" fill="#0000d8"/><path d="M648.5,160V175" stroke="#000"/><path d="M647,161h3V173h-3Z" fill="#0000d8"/><path d="M650.5,158V166" stroke="#000"/><path d="M649,161h3V164h-3Z" fill="#e00000"/><path d="M651.5,164V171" stroke="#000"/><path d="M650,164h3V168h-3Z" fill="#e00000"/><path d="M653.5,165V171" stroke="#000"/><path d="M652,168h3V170h-3Z" fill="#e00000"/><path d="M655.5,170V176" stroke="#000"/><path d="M654,170h3V172h-3Z" fill="#e00000"/><path d="M656.5,170V178" stroke="#000"/><path d="M655,172h3V178h-3Z" fill="#e00000"/><path d="M658.5,174V182" stroke="#000"/><path d="M657,174h3V178h-3Z" fill="#0000d8"/><path d="M659.5,175V184" stroke="#000"/><path d="M658,175h3V183h-3Z" fill="#e00000"/><path d="M661.5,180V188" stroke="#000"/><path d="M660,183h3V185h-3Z" fill="#e00000"/><path d="M663.5,183V185" stroke="#000"/><path d="M662,184h3V185h-3Z" fill="#e00000"/><path d="M664.5,183V185" stroke="#000"/><path d="M663,183h3V185h-3Z" fill="#0000d8"/><path d="M666.5,176V185" stroke="#000"/><path d="M665,177h3V183h-3Z" fill="#0000d8"/><path d="M668.5,176V186" stroke="#000"/><path d="M667,176h3V185h-3Z" fill="#e00000"/><path d="M669.5,181V192" stroke="#000"/><path d="M668,184h3V189h-3Z" fill="#e00000"/><path d="M671.5,185V192" stroke="#000"/><path d="M670,188h3V189h-3Z" fill="#0000d8"/><path d="M673.5,187V199" stroke="#000"/><path d="M672,188h3V196h-3Z" fill="#e00000"/><path d="M674.5,193V200" stroke="#000"/><path d="M673,196h3V197h-3Z" fill="#e00000"/><path d="M676.5,192V208" stroke="#000"/><path d="M675,196h3V206h-3Z" fill="#e00000"/><path d="M678.5,203V211" stroke="#000"/><path d="M677,206h3V209h-3Z" fill="#e00000"/><path d="M679.5,206V212" stroke="#000"/><path d="M678,209h3V210h-3Z" fill="#e00000"/><path d="M681.5,207V222" stroke="#000"/><path d="M680,209h3V219h-3Z" fill="#e00000"/><path d="M683.5,219V221" stroke="#000"/><path d="M682,220h3V221h-3Z" fill="#e00000"/><path d="M684.5,216V223" stroke="#000"/><path d="M683,220h3V222h-3Z" fill="#e00000"/><path d="M686.5,220V238" stroke="#000"/><path d="M685,222h3V237h-3Z" fill="#e00000"/><path d="M688.5,230V239" stroke="#000"/><path d="M687,234h3V237h-3Z" fill="#0000d8"/><path d="M689.5,232V248" stroke="#000"/><path d="M688,235h3V246h-3Z" fill="#e00000"/><path d="M691.5,244V249" stroke="#000"/><path d="M690,245h3V247h-3Z" fill="#e00000"/><path d="M692.5,244V262" stroke="#000"/><path d="M691,246h3V260h-3Z" fill="#e00000"/><path d="M694.5,251V262" stroke="#000"/><path d="M693,253h3V260h-3Z" fill="#0000d8"/><path d="M696.5,250V270" stroke="#000"/><path d="M695,252h3V268h-3Z" fill="#e00000"/><path d="M697.5,262V270" stroke="#000"/><path d="M696,263h3V268h-3Z" fill="#0000d8"/><path d="M699.5,262V282" stroke="#000"/><path d="M698,263h3V279h-3Z" fill="#e00000"/><path d="M701.5,267V280" stroke="#000"/><path d="M700,267h3V279h-3Z" fill="#0000d8"/><path d="M702.5,266V293" stroke="#000"/><path d="M701,268h3V291h-3Z" fill="#e00000"/><path d="M704.5,275V295" stroke="#000"/><path d="M703,277h3V291h-3Z" fill="#0000d8"/><path d="M706.5,275V300" stroke="#000"/><path d="M705,277h3V297h-3Z" fill="#e00000"/><path d="M707.5,293V300" stroke="#000"/><path d="M706,294h3V298h-3Z" fill="#0000d8"/><path d="M709.5,273V295" stroke="#000"/><path d="M708,273h3V294h-3Z" fill="#0000d8"/><path d="M711.5,256V274" stroke="#000"/><path d="M710,256h3V274h-3Z" fill="#0000d8"/><path d="M712.5,251V258" stroke="#000"/><path d="M711,252h3V255h-3Z" fill="#0000d8"/><path d="M714.5,249V258" stroke="#000"/><path d="M713,252h3V254h-3Z" fill="#e00000"/><path d="M716.5,252V261" stroke="#000"/><path d="M715,253h3V257h-3Z" fill="#e00000"/><path d="M717.5,250V257" stroke="#000"/><path d="M716,250h3V256h-3Z" fill="#0000d8"/><path d="M719.5,247V251" stroke="#000"/><path d="M718,249h3V250h-3Z" fill="#0000d8"/><path d="M721.5,239V249" stroke="#000"/><path d="M720,242h3V249h-3Z" fill="#0000d8"/><path d="M722.5,240V254" stroke="#000"/><path d="M721,243h3V253h-3Z" fill="#e00000"/><path d="M724.5,254V279" stroke="#000"/><path d="M723,254h3V279h-3Z" fill="#e00000"/><path d="M725.5,280V298" stroke="#000"/><path d="M724,280h3V295h-3Z" fill="#e00000"/><path d="M727.5,277V295" stroke="#000"/><path d="M726,277h3V295h-3Z" fill="#0000d8"/><path d="M729.5,274V285" stroke="#000"/><path d="M728,277h3V284h-3Z" fill="#e00000"/><path d="M730.5,271V285" stroke="#000"/><path d="M729,271h3V284h-3Z" fill="#0000d8"/><path d="M732.5,269V285" stroke="#000"/><path d="M731,271h3V283h-3Z" fill="#e00000"/><path d="M734.5,280V285" stroke="#000"/><path d="M733,281h3V283h-3Z" fill="#0000d8"/><path d="M735.5,279V292" stroke="#000"/><path d="M734,281h3V291h-3Z" fill="#e00000"/><path d="M737.5,286V291" stroke="#000"/><path d="M736,288h3V291h-3Z" fill="#0000d8"/><path d="M739.5,286V298" stroke="#000"/><path d="M738,288h3V297h-3Z" fill="#e00000"/><path d="M740.5,296V303" stroke="#000"/><path d="M739,297h3V302h-3Z" fill="#e00000"/><path d="M742.5,299V304" stroke="#000"/><path d="M741,300h3V302h-3Z" fill="#0000d8"/><path d="M744.5,297V302" stroke="#000"/><path d="M743,300h3V301h-3Z" fill="#e00000"/><path d="M745.5,299V316" stroke="#000"/><path d="M744,301h3V313h-3Z" fill="#e00000"/><path d="M747.5,307V318" stroke="#000"/><path d="M746,307h3V314h-3Z" fill="#0000d8"/><path d="M749.5,298V310" stroke="#000"/><path d="M748,298h3V307h-3Z" fill="#0000d8"/><path d="M750.5,286V299" stroke="#000"/><path d="M749,286h3V298h-3Z" fill="#0000d8"/><path d="M752.5,274V288" stroke="#000"/><path d="M751,276h3V286h-3Z" fill="#0000d8"/><path d="M754.5,274V284" stroke="#000"/><path d="M753,277h3V284h-3Z" fill="#e00000"/><path d="M755.5,281V292" stroke="#000"/><path d="M754,285h3V289h-3Z" fill="#e00000"/><path d="M757.5,288V300" stroke="#000"/><path d="M756,289h3V299h-3Z" fill="#e00000"/><path d="M758.5,296V305" stroke="#000"/><path d="M757,298h3V304h-3Z" fill="#e00000"/><path d="M760.5,286V306" stroke="#000"/><path d="M759,290h3V304h-3Z" fill="#0000d8"/><path d="M762.5,289V295" stroke="#000"/><path d="M761,290h3V293h-3Z" fill="#e00000"/><path d="M763.5,286V294" stroke="#000"/><path d="M762,287h3V293h-3Z" fill="#0000d8"/><path d="M765.5,283V300" stroke="#000"/><path d="M764,287h3V296h-3Z" fill="#e00000"/><path d="M767.5,296V314" stroke="#000"/><path d="M766,296h3V313h-3Z" fill="#e00000"/><path d="M768.5,292V316" stroke="#000"/><path d="M767,296h3V313h-3Z" fill="#0000d8"/><path d="M770.5,290V297" stroke="#000"/><path d="M769,293h3V296h-3Z" fill="#0000d8"/><path d="M772.5,281V293" stroke="#000"/><path d="M771,285h3V293h-3Z" fill="#0000d8"/><path d="M773.5,278V284" stroke="#000"/><path d="M772,280h3V284h-3Z" fill="#0000d8"/><path d="M775.5,276V290" stroke="#000"/><path d="M774,280h3V288h-3Z" fill="#e00000"/><path d="M777.5,285V296" stroke="#000"/><path d="M776,288h3V293h-3Z" fill="#e00000"/><path d="M778.5,281V294" stroke="#000"/><path d="M777,285h3V292h-3Z" fill="#0000d8"/><path d="M780.5,282V290" stroke="#000"/><path d="M779,283h3V286h-3Z" fill="#0000d8"/><path d="M782.5,281V302" stroke="#000"/><path d="M781,282h3V300h-3Z" fill="#e00000"/><path d="M783.5,284V301" stroke="#000"/><path d="M782,287h3V299h-3Z" fill="#0000d8"/><path d="M785.5,277V287" stroke="#000"/><path d="M784,281h3V286h-3Z" fill="#0000d8"/><path d="M787.5,278V285" stroke="#000"/><path d="M786,281h3V285h-3Z" fill="#e00000"/><path d="M788.5,281V291" stroke="#000"/><path d="M787,285h3V291h-3Z" fill="#e00000"/><path d="M790.5,290V291" stroke="#000"/><path d="M789,291h3V292h-3Z" fill="#0000d8"/><path d="M791.5,290V297" stroke="#000"/><path d="M790,290h3V296h-3Z" fill="#e00000"/><path d="M793.5,289V295" stroke="#000"/><path d="M792,291h3V295h-3Z" fill="#0000d8"/><path d="M795.5,288V301" stroke="#000"/><path d="M794,292h3V297h-3Z" fill="#e00000"/><path d="M796.5,290V299" stroke="#000"/><path d="M795,293h3V297h-3Z" fill="#0000d8"/><path d="M798.5,291V294" stroke="#000"/><path d="M797,293h3V294h-3Z" fill="#e00000"/><path d="M800.5,292V299" stroke="#000"/><path d="M799,294h3V298h-3Z" fill="#e00000"/><path d="M801.5,298V307" stroke="#000"/><path d="M800,298h3V307h-3Z" fill="#e00000"/><path d="M803.5,304V311" stroke="#000"/><path d="M802,307h3V310h-3Z" fill="#e00000"/><path d="M805.5,308V313" stroke="#000"/><path d="M804,310h3V311h-3Z" fill="#e00000"/><path d="M806.5,301V312" stroke="#000"/><path d="M805,303h3V311h-3Z" fill="#0000d8"/><path d="M808.5,300V310" stroke="#000"/><path d="M807,303h3V307h-3Z" fill="#e00000"/><path d="M810.5,303V317" stroke="#000"/><path d="M809,307h3V313h-3Z" fill="#e00000"/><path d="M811.5,311V326" stroke="#000"/><path d="M810,312h3V322h-3Z" fill="#e00000"/><path d="M813.5,321V323" stroke="#000"/><path d="M812,322h3V323h-3Z" fill="#e00000"/><path d="M815.5,317V322" stroke="#000"/><path d="M814,318h3V322h-3Z" fill="#0000d8"/><path d="M816.5,315V321" stroke="#000"/><path d="M815,318h3V319h-3Z" fill="#0000d8"/><path d="M818.5,313V321" stroke="#000"/><path d="M817,315h3V317h-3Z" fill="#0000d8"/><path d="M820.5,311V316" stroke="#000"/><path d="M819,315h3V316h-3Z" fill="#e00000"/><path d="M821.5,312V327" stroke="#000"/><path d="M820,316h3V326h-3Z" fill="#e00000"/><path d="M823.5,312V328" stroke="#000"/><path d="M822,315h3V326h-3Z" fill="#0000d8"/><path d="M824.5,313V328" stroke="#000"/><path d="M823,315h3V325h-3Z" fill="#e00000"/><path d="M826.5,317V326" stroke="#000"/><path d="M825,318h3V325h-3Z" fill="#0000d8"/><path d="M828.5,316V329" stroke="#000"/><path d="M827,318h3V326h-3Z" fill="#e00000"/><path d="M829.5,325V328" stroke="#000"/><path d="M828,325h3V327h-3Z" fill="#e00000"/></g><path d="M-0.1,47.9L1.6,48.9L3.2,51.1L4.9,52.8L6.5,54.5L8.2,55.9L9.8,56.8L11.5,56.3L13.1,56.6L14.8,55.7L16.4,55.8L18.1,55.7L19.7,56.1L21.4,57.9L23.0,58.2L24.7,58.6L26.3,59.2L28.0,58.4L29.6,57.8L31.3,57.6L33.0,59.7L34.6,61.2L36.2,61.8L37.9,60.7L39.5,56.7L41.2,55.1L42.9,50.4L44.5,48.6L46.1,46.6L47.8,46.9L49.5,49.4L51.1,50.3L52.8,50.3L54.4,50.6L56.0,50.6L57.7,50.5L59.4,52.1L61.0,52.7L62.6,56.3L64.3,54.7L66.0,54.3L67.6,54.8L69.2,55.0L70.9,54.1L72.5,53.0L74.2,51.2L75.8,51.9L77.5,51.5L79.1,51.0L80.8,54.3L82.5,56.8L84.1,60.1L85.8,61.6L87.4,61.1L89.0,59.5L90.7,58.4L92.3,54.1L94.0,49.3L95.6,43.2L97.3,41.7L99.0,40.1L100.6,40.9L102.2,40.7L103.9,41.3L105.5,41.8L107.2,43.2L108.8,43.1L110.5,43.1L112.1,45.6L113.8,45.3L115.5,48.8L117.1,48.1L118.8,48.6L120.4,48.0L122.0,47.8L123.7,47.8L125.3,47.6L127.0,48.9L128.6,50.8L130.3,54.8L131.9,57.9L133.6,57.9L135.2,56.1L136.9,53.0L138.5,51.0L140.2,52.2L141.8,52.3L143.5,53.6L145.1,58.4L146.8,62.7L148.4,67.0L150.1,74.4L151.7,79.2L153.4,80.1L155.0,80.3L156.7,78.8L158.3,76.4L160.0,77.8L161.6,80.1L163.3,81.7L164.9,83.0L166.6,85.1L168.2,88.6L169.9,91.7L171.5,96.2L173.2,97.1L174.8,97.0L176.5,97.6L178.1,97.1L179.8,97.3L181.4,96.7L183.1,96.2L184.7,95.6L186.4,94.7L188.0,95.2L189.7,95.4L191.3,95.9L193.0,98.3L194.6,102.0L196.3,106.9L197.9,106.9L199.6,107.1L201.2,107.5L202.9,106.3L204.5,105.2L206.2,106.1L207.8,107.3L209.5,108.7L211.1,109.5L212.8,113.2L214.4,116.5L216.1,120.5L217.7,125.6L219.4,129.3L221.0,128.3L222.7,128.0L224.3,125.2L226.0,118.8L227.6,115.0L229.3,113.1L230.9,109.7L232.6,106.9L234.2,102.2L235.9,95.7L237.5,91.3L239.2,87.1L240.8,84.6L242.5,83.2L244.1,81.3L245.8,81.3L247.4,81.7L249.1,83.8L250.7,85.5L252.4,85.9L254.0,86.1L255.7,85.8L257.3,85.9L259.0,85.6L260.6,86.3L262.3,87.1L263.9,89.0L265.6,92.0L267.2,92.2L268.9,92.7L270.5,93.1L272.2,92.6L273.8,95.2L275.5,95.3L277.1,98.3L278.8,99.2L280.4,99.1L282.1,100.2L283.8,100.0L285.4,100.0L287.0,103.2L288.7,104.9L290.3,108.3L292.0,107.8L293.6,106.5L295.3,103.1L296.9,100.8L298.6,98.8L300.2,99.2L301.9,100.4L303.5,101.7L305.2,102.9L306.8,104.4L308.5,101.9L310.1,102.4L311.8,104.3L313.4,105.2L315.1,106.6L316.7,106.8L318.4,108.1L320.0,110.8L321.7,111.1L323.3,110.2L325.0,108.3L326.6,108.7L328.3,110.7L329.9,111.1L331.6,113.1L333.2,117.4L334.9,120.4L336.5,123.9L338.2,124.4L339.8,126.2L341.5,127.2L343.1,129.8L344.8,134.9L346.4,138.0L348.1,143.2L349.7,148.1L351.4,152.5L353.0,158.0L354.7,161.1L356.3,164.2L358.0,167.0L359.6,171.0L361.3,176.5L362.9,181.4L364.6,185.0L366.2,190.4L367.9,195.6L369.5,196.3L371.2,197.0L372.8,195.2L374.5,193.3L376.1,191.1L377.8,191.6L379.4,192.9L381.1,193.4L382.7,191.5L384.4,188.9L386.0,189.0L387.7,190.5L389.3,191.7L391.0,195.7L392.6,202.5L394.3,206.4L395.9,213.2L397.6,218.1L399.2,224.4L400.9,229.2L402.5,233.1L404.2,237.9L405.8,231.6L407.5,224.9L409.1,217.4L410.8,210.5L412.4,204.5L414.1,203.1L415.7,199.4L417.4,198.5L419.0,200.0L420.7,204.4L422.3,206.1L424.0,204.9L425.6,205.0L427.3,203.9L428.9,203.6L430.6,203.9L432.2,206.6L433.9,210.4L435.5,212.6L437.2,217.1L438.8,215.9L440.5,215.0L442.1,213.8L443.8,209.5L445.4,207.2L447.1,202.9L448.7,200.0L450.4,196.4L452.0,191.4L453.7,189.8L455.3,186.8L457.0,188.1L458.6,187.7L460.3,186.5L461.9,181.1L463.6,176.3L465.2,175.0L466.9,171.5L468.5,169.8L470.2,166.8L471.8,167.0L473.5,168.2L475.1,166.5L476.8,163.1L478.4,159.4L480.1,154.7L481.7,152.3L483.4,150.4L485.0,149.7L486.7,149.7L488.3,153.5L490.0,155.6L491.6,155.7L493.3,152.1L494.9,145.3L496.6,136.7L498.2,132.1L499.9,127.4L501.5,125.2L503.2,123.3L504.8,122.9L506.5,125.6L508.1,128.9L509.8,128.3L511.4,124.6L513.1,122.1L514.8,119.1L516.4,120.0L518.1,121.1L519.7,126.3L521.4,132.8L523.0,144.6L524.6,154.0L526.3,161.2L528.0,166.9L529.6,164.3L531.2,159.9L532.9,156.1L534.6,152.8L536.2,153.6L537.9,157.2L539.5,161.7L541.1,169.9L542.8,180.7L544.5,191.0L546.1,189.9L547.8,185.8L549.4,179.3L551.1,179.6L552.7,179.5L554.4,180.5L556.0,180.8L557.6,180.2L559.3,180.3L561.0,179.7L562.6,180.1L564.2,180.9L565.9,185.2L567.6,186.7L569.2,186.5L570.9,184.0L572.5,176.6L574.1,171.0L575.8,161.9L577.5,157.6L579.1,157.1L580.8,156.9L582.4,157.8L584.1,158.8L585.7,159.7L587.4,160.3L589.0,160.6L590.6,161.7L592.3,167.5L594.0,173.3L595.6,175.9L597.2,179.0L598.9,178.8L600.6,178.0L602.2,179.3L603.9,181.0L605.5,182.3L607.1,180.3L608.8,178.6L610.5,174.7L612.1,174.5L613.8,174.5L615.4,174.7L617.1,175.6L618.7,175.7L620.4,175.5L622.0,175.2L623.6,175.6L625.3,176.3L627.0,180.4L628.6,180.7L630.2,179.6L631.9,179.5L633.5,179.9L635.2,179.9L636.9,179.1L638.5,179.3L640.1,179.8L641.8,179.6L643.5,178.6L645.1,176.1L646.8,173.0L648.4,162.7L650.0,158.3L651.7,156.9L653.4,156.1L655.0,156.8L656.6,157.3L658.3,158.3L660.0,157.8L661.6,156.8L663.2,156.1L664.9,160.3L666.5,164.4L668.2,167.2L669.9,169.7L671.5,172.5L673.1,171.4L674.8,173.6L676.5,171.5L678.1,170.4L679.8,170.6L681.4,170.6L683.0,175.8L684.7,179.3L686.4,180.5L688.0,186.2L689.6,188.6L691.3,194.1L693.0,196.1L694.6,201.0L696.2,206.3L697.9,211.2L699.5,216.1L701.2,225.5L702.9,226.7L704.5,235.3L706.1,237.6L707.8,243.7L709.5,246.7L711.1,248.1L712.8,242.5L714.4,239.7L716.0,236.6L717.7,232.7L719.4,230.0L721.0,225.3L722.6,229.1L724.3,233.7L726.0,227.9L727.6,227.7L729.2,228.3L730.9,230.2L732.5,231.4L734.2,235.4L735.9,241.0L737.5,255.2L739.1,267.6L740.8,267.2L742.5,266.5L744.1,268.4L745.8,267.2L747.4,274.7L749.0,278.6L750.7,281.1L752.4,274.2L754.0,272.9L755.6,271.9L757.3,271.9L759.0,271.8L760.6,270.9L762.2,272.8L763.9,273.6L765.5,273.8L767.2,271.7L768.9,277.6L770.5,280.2L772.1,278.6L773.8,274.3L775.5,274.1L777.1,274.4L778.8,273.1L780.4,271.9L782.0,271.6L783.7,275.7L785.4,274.4L787.0,274.3L788.6,274.6L790.3,276.6L792.0,276.3L793.6,276.3L795.2,276.7L796.9,278.7L798.5,279.7L800.2,280.1L801.9,281.8L803.5,282.5L805.1,282.5L806.8,284.6L808.5,285.3L810.1,287.5L811.8,286.8L813.4,289.3L815.0,294.4L816.7,299.2L818.4,300.8L820.0,301.5L821.6,301.5L823.3,305.8L825.0,309.3L826.6,310.7L828.2,310.1L829.9,309.6" stroke="#8cf58c" stroke-width="1.2" fill="none"/><path d="M-0.1,66.7L1.6,69.2L3.2,68.6L4.9,67.8L6.5,67.5L8.2,67.4L9.8,67.4L11.5,69.8L13.1,70.4L14.8,73.0L16.4,73.0L18.1,72.3L19.7,72.2L21.4,72.3L23.0,73.5L24.7,74.6L26.3,74.6L28.0,76.6L29.6,79.4L31.3,80.1L33.0,80.7L34.6,80.1L36.2,79.7L37.9,80.2L39.5,82.2L41.2,82.2L42.9,84.7L44.5,83.1L46.1,80.4L47.8,76.8L49.5,71.1L51.1,69.4L52.8,68.6L54.4,67.7L56.0,68.8L57.7,68.4L59.4,67.6L61.0,68.1L62.6,66.1L64.3,67.1L66.0,67.0L67.6,65.4L69.2,65.6L70.9,67.4L72.5,69.5L74.2,74.5L75.8,76.2L77.5,78.9L79.1,82.8L80.8,83.2L82.5,84.6L84.1,83.2L85.8,82.1L87.4,82.4L89.0,83.2L90.7,82.7L92.3,84.9L94.0,86.2L95.6,86.7L97.3,83.6L99.0,78.4L100.6,73.9L102.2,71.8L103.9,70.4L105.5,68.3L107.2,65.5L108.8,66.0L110.5,66.0L112.1,64.7L113.8,64.8L115.5,62.8L117.1,65.4L118.8,66.7L120.4,68.0L122.0,69.8L123.7,69.8L125.3,71.1L127.0,72.4L128.6,71.7L130.3,69.8L131.9,68.9L133.6,69.6L135.2,73.9L136.9,80.6L138.5,87.2L140.2,91.2L141.8,96.2L143.5,98.4L145.1,97.6L146.8,97.7L148.4,97.0L150.1,93.7L151.7,91.3L153.4,92.7L155.0,94.1L156.7,98.8L158.3,105.0L160.0,106.9L161.6,108.1L163.3,109.3L164.9,112.2L166.6,112.8L168.2,113.1L169.9,111.9L171.5,109.1L173.2,109.9L174.8,110.5L176.5,110.2L178.1,110.4L179.8,110.4L181.4,111.6L183.1,113.7L184.7,115.3L186.4,119.3L188.0,122.0L189.7,122.6L191.3,123.3L193.0,122.9L194.6,122.8L196.3,120.5L197.9,122.9L199.6,125.2L201.2,127.3L202.9,130.9L204.5,135.3L206.2,139.2L207.8,143.5L209.5,149.3L211.1,154.7L212.8,156.5L214.4,157.4L216.1,156.8L217.7,155.3L219.4,153.0L221.0,153.8L222.7,153.9L224.3,155.2L226.0,157.2L227.6,156.0L229.3,153.3L230.9,151.4L232.6,148.5L234.2,145.5L235.9,145.0L237.5,143.8L239.2,140.2L240.8,135.3L242.5,131.7L244.1,127.4L245.8,120.3L247.4,113.9L249.1,106.3L250.7,102.7L252.4,101.6L254.0,101.0L255.7,102.4L257.3,102.6L259.0,103.3L260.6,103.9L262.3,105.7L263.9,106.4L265.6,106.2L267.2,107.8L268.9,110.0L270.5,110.9L272.2,114.3L273.8,114.3L275.5,117.7L277.1,117.4L278.8,118.8L280.4,122.9L282.1,125.0L283.8,130.2L285.4,135.0L287.0,135.9L288.7,136.0L290.3,134.5L292.0,134.8L293.6,135.7L295.3,137.9L296.9,138.0L298.6,137.9L300.2,134.5L301.9,128.9L303.5,123.7L305.2,120.6L306.8,118.0L308.5,122.4L310.1,123.7L311.8,123.6L313.4,124.8L315.1,125.7L316.7,125.9L318.4,126.7L320.0,127.0L321.7,130.5L323.3,135.1L325.0,140.5L326.6,144.2L328.3,146.7L329.9,151.9L331.6,154.6L333.2,156.6L334.9,160.4L336.5,163.4L338.2,170.9L339.8,176.3L341.5,183.2L343.1,189.3L344.8,191.1L346.4,195.8L348.1,199.8L349.7,203.1L351.4,206.6L353.0,209.4L354.7,213.3L356.3,219.6L358.0,225.1L359.6,227.2L361.3,230.9L362.9,233.8L364.6,237.1L366.2,235.7L367.9,232.9L369.5,232.4L371.2,232.0L372.8,232.4L374.5,232.4L376.1,233.1L377.8,229.5L379.4,226.0L381.1,225.2L382.7,229.3L384.4,237.0L386.0,244.4L387.7,250.0L389.3,257.8L391.0,261.8L392.6,265.5L394.3,273.4L395.9,274.0L397.6,275.2L399.2,272.7L400.9,271.5L402.5,269.5L404.2,266.5L405.8,271.1L407.5,275.8L409.1,278.1L410.8,275.8L412.4,274.3L414.1,267.8L415.7,264.1L417.4,255.7L419.0,246.9L420.7,234.4L422.3,230.9L424.0,233.1L425.6,232.6L427.3,237.5L428.9,242.6L430.6,243.0L432.2,243.2L433.9,241.3L435.5,240.6L437.2,237.9L438.8,238.4L440.5,237.2L442.1,237.8L443.8,238.1L445.4,234.8L447.1,236.1L448.7,234.5L450.4,234.3L452.0,233.8L453.7,229.7L455.3,227.2L457.0,221.3L458.6,216.2L460.3,213.5L461.9,213.9L463.6,213.6L465.2,210.4L466.9,208.8L468.5,207.4L470.2,205.6L471.8,203.7L473.5,196.8L475.1,194.1L476.8,191.9L478.4,192.3L480.1,193.4L481.7,191.2L483.4,190.1L485.0,186.7L486.7,185.6L488.3,176.2L490.0,172.4L491.6,170.0L493.3,171.6L494.9,175.3L496.6,180.7L498.2,181.9L499.9,182.3L501.5,180.5L503.2,175.5L504.8,170.6L506.5,160.1L508.1,153.4L509.8,154.6L511.4,162.2L513.1,172.0L514.8,184.8L516.4,193.0L518.1,201.2L519.7,204.4L521.4,203.9L523.0,197.6L524.6,191.6L526.3,187.1L528.0,184.8L529.6,193.5L531.2,204.1L532.9,217.2L534.6,231.4L536.2,238.1L537.9,241.6L539.5,243.2L541.1,239.2L542.8,231.6L544.5,223.6L546.1,224.4L547.8,226.5L549.4,227.8L551.1,220.6L552.7,216.4L554.4,213.7L556.0,213.2L557.6,214.7L559.3,214.5L561.0,213.8L562.6,214.0L564.2,214.0L565.9,211.4L567.6,210.8L569.2,210.9L570.9,210.9L572.5,212.5L574.1,211.7L575.8,214.7L577.5,214.5L579.1,210.5L580.8,206.5L582.4,203.8L584.1,201.4L585.7,198.3L587.4,196.3L589.0,197.4L590.6,198.5L592.3,197.6L594.0,195.3L595.6,194.5L597.2,194.4L598.9,195.0L600.6,197.0L602.2,196.7L603.9,196.2L605.5,195.5L607.1,196.9L608.8,197.0L610.5,198.9L612.1,198.8L613.8,197.2L615.4,196.2L617.1,192.5L618.7,192.1L620.4,192.4L622.0,193.3L623.6,195.2L625.3,195.5L627.0,193.0L628.6,193.1L630.2,193.7L631.9,193.7L633.5,193.4L635.2,193.4L636.9,192.8L638.5,192.0L640.1,189.6L641.8,189.0L643.5,189.0L645.1,189.3L646.8,191.1L648.4,197.3L650.0,198.5L651.7,196.2L653.4,194.3L655.0,190.4L656.6,189.0L658.3,186.1L660.0,187.1L661.6,189.9L663.2,192.9L664.9,193.0L666.5,191.0L668.2,191.5L669.9,192.9L671.5,193.1L673.1,198.1L674.8,200.3L676.5,207.7L678.1,214.5L679.8,219.8L681.4,227.9L683.0,231.1L684.7,235.2L686.4,244.6L688.0,247.8L689.6,256.1L691.3,260.3L693.0,270.5L694.6,274.1L696.2,280.9L697.9,284.5L699.5,291.7L701.2,289.5L702.9,300.5L704.5,299.0L706.1,308.0L707.8,310.8L709.5,310.0L711.1,308.9L712.8,312.5L714.4,314.2L716.0,313.3L717.7,314.7L719.4,308.2L721.0,306.5L722.6,290.8L724.3,281.6L726.0,294.0L727.6,299.3L729.2,306.3L730.9,308.0L732.5,312.5L734.2,314.4L735.9,316.8L737.5,308.7L739.1,303.1L740.8,308.5L742.5,310.6L744.1,313.6L745.8,321.6L747.4,320.4L749.0,319.2L750.7,317.3L752.4,322.3L754.0,322.9L755.6,322.6L757.3,321.9L759.0,322.9L760.6,321.4L762.2,314.6L763.9,309.2L765.5,308.4L767.2,316.9L768.9,314.2L770.5,313.0L772.1,313.9L773.8,314.9L775.5,311.8L777.1,312.0L778.8,311.9L780.4,312.3L782.0,313.4L783.7,303.0L785.4,301.1L787.0,299.6L788.6,300.4L790.3,300.4L792.0,302.3L793.6,301.9L795.2,303.9L796.9,303.9L798.5,301.5L800.2,303.3L801.9,306.8L803.5,311.5L805.1,315.7L806.8,316.1L808.5,317.8L810.1,320.0L811.8,326.2L813.4,329.5L815.0,328.9L816.7,327.7L818.4,327.7L820.0,328.0L821.6,331.4L823.3,328.9L825.0,328.7L826.6,328.2L828.2,329.8L829.9,331.4" stroke="#8cf58c" stroke-width="1.2" fill="none"/><path d="M0.0,8.8L25.1,15.6L50.2,22.6L75.3,28.1L100.5,32.1L125.6,36.4L150.7,42.7L175.8,49.0L200.9,56.5L230.6,66.0L261.1,73.6L291.7,79.7L316.1,83.4L337.5,89.5L352.8,96.5L371.1,105.7L389.4,116.4L407.8,125.5L420.0,130.1L430.1,133.1L445.2,139.7L460.3,144.7L475.3,146.5L490.4,147.7L505.5,148.2L520.5,149.0L535.6,152.7L550.7,156.5L565.7,159.8L580.8,162.3L595.9,164.0L610.0,166.1L628.3,167.3L646.7,168.2L665.0,169.1L683.3,172.8L701.7,180.4L720.0,188.0L738.3,195.7L756.7,203.3L775.0,211.0L793.3,218.6L811.7,226.2L830.0,233.9" stroke="#8cf58c" stroke-width="1.2" fill="none"/><path d="M-0.1,43.1L1.6,43.9L3.2,44.6L4.9,45.3L6.5,46.0L8.2,46.7L9.8,47.4L11.5,48.1L13.1,48.7L14.8,49.4L16.4,50.1L18.1,50.7L19.7,51.3L21.4,52.0L23.0,52.7L24.7,53.3L26.3,54.0L28.0,54.7L29.6,55.3L31.3,55.9L33.0,56.4L34.6,56.9L36.2,57.0L37.9,57.2L39.5,57.3L41.2,57.3L42.9,57.3L44.5,57.3L46.1,57.3L47.8,57.4L49.5,57.5L51.1,57.6L52.8,57.7L54.4,57.7L56.0,57.8L57.7,57.8L59.4,57.8L61.0,57.9L62.6,57.9L64.3,58.0L66.0,58.2L67.6,58.3L69.2,58.5L70.9,58.9L72.5,59.2L74.2,59.5L75.8,60.1L77.5,60.6L79.1,61.2L80.8,61.7L82.5,62.2L84.1,62.4L85.8,62.4L87.4,62.5L89.0,62.5L90.7,62.1L92.3,61.6L94.0,61.1L95.6,60.7L97.3,60.4L99.0,60.1L100.6,59.9L102.2,59.7L103.9,59.6L105.5,59.5L107.2,59.5L108.8,59.4L110.5,59.4L112.1,59.3L113.8,59.3L115.5,59.3L117.1,59.4L118.8,59.5L120.4,59.7L122.0,59.8L123.7,59.9L125.3,60.0L127.0,60.2L128.6,60.2L130.3,60.6L131.9,61.2L133.6,61.8L135.2,62.4L136.9,63.2L138.5,64.0L140.2,64.8L141.8,65.6L143.5,66.4L145.1,67.2L146.8,68.1L148.4,68.9L150.1,69.8L151.7,70.6L153.4,71.4L155.0,72.2L156.7,73.1L158.3,74.1L160.0,75.1L161.6,76.0L163.3,77.0L164.9,77.9L166.6,78.8L168.2,79.6L169.9,80.5L171.5,81.3L173.2,82.1L174.8,82.9L176.5,83.7L178.1,84.5L179.8,85.4L181.4,86.2L183.1,87.1L184.7,88.0L186.4,89.0L188.0,90.0L189.7,90.9L191.3,91.9L193.0,92.7L194.6,93.5L196.3,94.4L197.9,95.2L199.6,96.2L201.2,97.2L202.9,98.2L204.5,99.2L206.2,100.3L207.8,101.4L209.5,102.5L211.1,103.7L212.8,104.8L214.4,106.2L216.1,107.5L217.7,108.8L219.4,110.0L221.0,110.8L222.7,111.5L224.3,112.2L226.0,112.8L227.6,113.3L229.3,113.3L230.9,113.3L232.6,113.3L234.2,113.3L235.9,112.7L237.5,111.9L239.2,111.1L240.8,110.3L242.5,109.5L244.1,109.0L245.8,108.5L247.4,107.9L249.1,107.4L250.7,107.1L252.4,106.9L254.0,106.7L255.7,106.5L257.3,106.3L259.0,106.0L260.6,105.8L262.3,105.6L263.9,105.4L265.6,105.3L267.2,105.2L268.9,105.1L270.5,105.0L272.2,105.1L273.8,105.5L275.5,105.9L277.1,106.4L278.8,106.8L280.4,107.3L282.1,107.9L283.8,108.5L285.4,109.1L287.0,109.6L288.7,109.9L290.3,110.3L292.0,110.6L293.6,110.9L295.3,111.0L296.9,111.0L298.6,111.1L300.2,111.2L301.9,111.3L303.5,111.3L305.2,111.4L306.8,111.5L308.5,111.6L310.1,111.8L311.8,112.1L313.4,112.3L315.1,112.6L316.7,113.0L318.4,113.7L320.0,114.4L321.7,115.1L323.3,115.8L325.0,116.5L326.6,117.1L328.3,117.7L329.9,118.3L331.6,119.4L333.2,120.6L334.9,121.8L336.5,122.9L338.2,124.2L339.8,125.9L341.5,127.6L343.1,129.4L344.8,131.2L346.4,133.0L348.1,135.0L349.7,136.9L351.4,138.9L353.0,140.9L354.7,142.9L356.3,145.1L358.0,147.5L359.6,149.7L361.3,152.1L362.9,154.4L364.6,156.4L366.2,158.1L367.9,159.7L369.5,161.4L371.2,163.0L372.8,164.5L374.5,166.0L376.1,167.4L377.8,168.9L379.4,170.4L381.1,172.0L382.7,173.9L384.4,175.7L386.0,177.6L387.7,179.4L389.3,181.3L391.0,183.3L392.6,185.4L394.3,187.4L395.9,189.4L397.6,191.5L399.2,193.4L400.9,195.4L402.5,197.4L404.2,199.3L405.8,201.0L407.5,202.0L409.1,202.9L410.8,203.9L412.4,204.8L414.1,205.7L415.7,206.3L417.4,206.9L419.0,207.5L420.7,208.1L422.3,208.8L424.0,209.4L425.6,209.9L427.3,210.5L428.9,211.2L430.6,210.6L432.2,211.2L433.9,211.7L435.5,212.2L437.2,212.7L438.8,213.1L440.5,213.3L442.1,212.6L443.8,211.8L445.4,211.1L447.1,210.4L448.7,209.5L450.4,208.7L452.0,207.8L453.7,206.9L455.3,206.0L457.0,205.3L458.6,204.4L460.3,203.6L461.9,202.7L463.6,202.0L465.2,201.2L466.9,200.4L468.5,199.7L470.2,198.7L471.8,197.7L473.5,196.6L475.1,195.5L476.8,194.4L478.4,193.2L480.1,192.0L481.7,190.9L483.4,189.7L485.0,188.6L486.7,187.5L488.3,186.4L490.0,185.4L491.6,184.2L493.3,182.8L494.9,181.4L496.6,179.9L498.2,178.4L499.9,176.8L501.5,175.2L503.2,173.5L504.8,171.9L506.5,170.5L508.1,169.4L509.8,168.5L511.4,167.9L513.1,168.0L514.8,168.1L516.4,168.4L518.1,168.7L519.7,169.1L521.4,169.2L523.0,169.2L524.6,169.2L526.3,169.8L528.0,170.7L529.6,171.8L531.2,172.8L532.9,173.9L534.6,175.1L536.2,176.1L537.9,177.0L539.5,177.8L541.1,178.7L542.8,179.5L544.5,180.3L546.1,181.0L547.8,181.5L549.4,181.9L551.1,182.4L552.7,182.9L554.4,183.4L556.0,183.9L557.6,184.3L559.3,184.7L561.0,185.0L562.6,185.3L564.2,185.7L565.9,186.0L567.6,186.1L569.2,186.1L570.9,186.1L572.5,186.1L574.1,186.0L575.8,185.8L577.5,185.7L579.1,185.7L580.8,185.6L582.4,185.6L584.1,185.7L585.7,185.6L587.4,185.6L589.0,185.6L590.6,185.6L592.3,185.6L594.0,185.7L595.6,185.7L597.2,185.7L598.9,185.7L600.6,185.7L602.2,185.6L603.9,185.6L605.5,185.6L607.1,185.5L608.8,185.4L610.5,185.2L612.1,185.1L613.8,185.1L615.4,185.0L617.1,184.9L618.7,184.8L620.4,184.7L622.0,184.5L623.6,184.4L625.3,184.3L627.0,184.2L628.6,184.0L630.2,183.9L631.9,183.7L633.5,183.6L635.2,183.4L636.9,183.2L638.5,183.1L640.1,182.9L641.8,182.8L643.5,182.6L645.1,182.4L646.8,182.2L648.4,181.9L650.0,181.8L651.7,181.6L653.4,181.5L655.0,181.4L656.6,181.3L658.3,181.2L660.0,181.1L661.6,181.0L663.2,180.9L664.9,180.8L666.5,181.2L668.2,181.6L669.9,182.1L671.5,182.7L673.1,183.7L674.8,184.6L676.5,185.7L678.1,186.7L679.8,187.7L681.4,188.9L683.0,190.2L684.7,191.4L686.4,193.2L688.0,195.2L689.6,197.3L691.3,199.3L693.0,201.4L694.6,203.5L696.2,205.6L697.9,207.6L699.5,209.7L701.2,211.8L702.9,214.0L704.5,216.2L706.1,218.6L707.8,220.9L709.5,222.4L711.1,223.4L712.8,224.4L714.4,225.5L716.0,226.7L717.7,227.9L719.4,229.1L721.0,230.3L722.6,231.5L724.3,232.8L726.0,234.1L727.6,235.5L729.2,237.0L730.9,238.4L732.5,239.9L734.2,241.3L735.9,242.8L737.5,244.2L739.1,245.7L740.8,247.4L742.5,249.1L744.1,250.8L745.8,252.6L747.4,254.3L749.0,255.9L750.7,257.5L752.4,258.7L754.0,259.9L755.6,261.1L757.3,262.3L759.0,263.6L760.6,264.8L762.2,266.0L763.9,267.1L765.5,268.3L767.2,269.5L768.9,270.6L770.5,271.5L772.1,271.5L773.8,272.0L775.5,272.5L777.1,273.2L778.8,273.7L780.4,274.1L782.0,274.9L783.7,275.5L785.4,276.0L787.0,276.5L788.6,277.2L790.3,277.8L792.0,278.5L793.6,279.1L795.2,279.8L796.9,280.5L798.5,281.1L800.2,281.8L801.9,282.7L803.5,283.6L805.1,284.5L806.8,285.2L808.5,286.1L810.1,287.0L811.8,288.0L813.4,289.1L815.0,290.0L816.7,290.9L818.4,291.8L820.0,292.8L821.6,293.9L823.3,294.8L825.0,295.9L826.6,296.8L828.2,297.9L829.9,299.0" stroke="#2828ff" stroke-width="1.2" fill="none"/><path d="M-0.1,52.5L1.6,54.1L3.2,54.8L4.9,55.2L6.5,56.0L8.2,56.8L9.8,57.5L11.5,58.7L13.1,59.5L14.8,60.7L16.4,60.8L18.1,61.1L19.7,61.2L21.4,62.0L23.0,62.8L24.7,63.7L26.3,64.0L28.0,65.1L29.6,66.3L31.3,67.1L33.0,67.9L34.6,68.0L36.2,67.5L37.9,67.1L39.5,66.2L41.2,65.7L42.9,64.3L44.5,63.5L46.1,62.2L47.8,61.8L49.5,61.8L51.1,62.1L52.8,61.8L54.4,61.8L56.0,62.0L57.7,61.7L59.4,61.4L61.0,61.5L62.6,61.5L64.3,60.8L66.0,60.5L67.6,60.5L69.2,60.6L70.9,61.2L72.5,62.0L74.2,63.2L75.8,63.9L77.5,64.9L79.1,66.2L80.8,67.2L82.5,68.4L84.1,68.7L85.8,68.2L87.4,67.8L89.0,67.3L90.7,67.1L92.3,66.0L94.0,64.5L95.6,62.3L97.3,61.3L99.0,59.5L100.6,59.0L102.2,58.3L103.9,58.7L105.5,58.5L107.2,58.6L108.8,58.6L110.5,58.0L112.1,57.4L113.8,56.8L115.5,56.6L117.1,57.3L118.8,57.8L120.4,58.6L122.0,59.2L123.7,59.2L125.3,59.8L127.0,60.4L128.6,60.3L130.3,60.7L131.9,61.3L133.6,61.9L135.2,63.2L136.9,65.0L138.5,67.0L140.2,68.8L141.8,70.8L143.5,72.1L145.1,73.3L146.8,74.7L148.4,76.0L150.1,77.4L151.7,78.5L153.4,79.9L155.0,81.2L156.7,83.1L158.3,85.3L160.0,86.8L161.6,88.3L163.3,89.7L164.9,91.5L166.6,92.8L168.2,94.4L169.9,95.2L171.5,95.9L173.2,97.1L174.8,98.1L176.5,98.4L178.1,98.6L179.8,98.9L181.4,100.1L183.1,101.3L184.7,102.4L186.4,103.9L188.0,105.3L189.7,106.0L191.3,106.6L193.0,107.2L194.6,108.4L196.3,109.3L197.9,110.6L199.6,111.9L201.2,113.2L202.9,114.8L204.5,116.5L206.2,118.4L207.8,120.5L209.5,123.2L211.1,125.7L212.8,127.7L214.4,129.4L216.1,130.8L217.7,132.2L219.4,132.7L221.0,132.3L222.7,132.5L224.3,132.2L226.0,130.8L227.6,129.7L229.3,128.9L230.9,127.4L232.6,125.9L234.2,123.4L235.9,120.4L237.5,118.1L239.2,115.2L240.8,112.7L242.5,110.9L244.1,108.6L245.8,106.4L247.4,104.4L249.1,102.7L250.7,102.0L252.4,101.2L254.0,100.9L255.7,100.7L257.3,100.0L259.0,99.9L260.6,99.7L262.3,100.0L263.9,100.3L265.6,100.7L267.2,101.2L268.9,101.9L270.5,102.3L272.2,103.4L273.8,104.0L275.5,105.2L277.1,106.0L278.8,106.9L280.4,108.4L282.1,109.7L283.8,111.7L285.4,113.6L287.0,115.0L288.7,115.7L290.3,116.2L292.0,116.0L293.6,115.2L295.3,114.2L296.9,113.7L298.6,113.2L300.2,113.3L301.9,113.1L303.5,112.6L305.2,112.6L306.8,113.0L308.5,114.0L310.1,114.4L311.8,114.6L313.4,115.1L315.1,115.7L316.7,115.9L318.4,116.5L320.0,117.4L321.7,118.8L323.3,120.3L325.0,122.1L326.6,123.8L328.3,125.3L329.9,127.4L331.6,129.2L333.2,131.3L334.9,133.8L336.5,136.3L338.2,139.5L339.8,142.4L341.5,145.6L343.1,148.9L344.8,151.7L346.4,154.9L348.1,158.4L349.7,161.9L351.4,165.3L353.0,168.9L354.7,172.2L356.3,176.3L358.0,180.1L359.6,183.1L361.3,187.1L362.9,190.7L364.6,194.2L366.2,196.5L367.9,198.1L369.5,198.5L371.2,199.0L372.8,199.6L374.5,200.0L376.1,200.1L377.8,201.1L379.4,202.5L381.1,204.7L382.7,206.8L384.4,209.4L386.0,212.1L387.7,214.5L389.3,217.7L391.0,220.4L392.6,224.0L394.3,228.1L395.9,230.9L397.6,233.6L399.2,235.2L400.9,237.1L402.5,238.2L404.2,239.2L405.8,238.4L407.5,237.2L409.1,235.6L410.8,233.3L412.4,231.1L414.1,229.9L415.7,227.9L417.4,226.0L419.0,224.9L420.7,223.7L422.3,223.8L424.0,224.7L425.6,224.4L427.3,225.3L428.9,226.5L430.6,226.2L432.2,226.4L433.9,226.0L435.5,225.9L437.2,225.8L438.8,225.3L440.5,224.8L442.1,224.1L443.8,222.6L445.4,221.0L447.1,219.4L448.7,217.8L450.4,216.0L452.0,213.6L453.7,211.8L455.3,209.6L457.0,208.7L458.6,206.8L460.3,205.1L461.9,202.4L463.6,199.7L465.2,197.8L466.9,195.3L468.5,193.5L470.2,191.2L471.8,190.5L473.5,188.9L475.1,186.7L476.8,184.0L478.4,181.7L480.1,179.1L481.7,176.8L483.4,175.0L485.0,173.4L486.7,172.8L488.3,171.6L490.0,171.3L491.6,169.9L493.3,167.9L494.9,165.3L496.6,161.9L498.2,159.4L499.9,156.7L501.5,154.9L503.2,152.5L504.8,150.9L506.5,149.2L508.1,148.8L509.8,149.5L511.4,150.8L513.1,152.6L514.8,155.3L516.4,157.5L518.1,160.0L519.7,162.0L521.4,163.3L523.0,164.6L524.6,165.4L526.3,166.2L528.0,167.6L529.6,170.6L531.2,173.9L532.9,177.9L534.6,182.2L536.2,185.2L537.9,187.8L539.5,190.0L541.1,191.4L542.8,192.4L544.5,193.2L546.1,193.2L547.8,193.0L549.4,191.9L551.1,191.8L552.7,191.8L554.4,192.9L556.0,194.5L557.6,195.8L559.3,196.3L561.0,196.0L562.6,196.1L564.2,195.9L565.9,195.8L567.6,195.8L569.2,195.3L570.9,194.5L572.5,192.3L574.1,190.1L575.8,186.9L577.5,184.8L579.1,183.8L580.8,183.0L582.4,183.5L584.1,184.2L585.7,184.0L587.4,183.8L589.0,183.7L590.6,183.7L592.3,184.4L594.0,184.8L595.6,185.0L597.2,185.7L598.9,186.3L600.6,187.1L602.2,187.2L603.9,187.4L605.5,187.3L607.1,186.5L608.8,186.0L610.5,184.9L612.1,184.9L613.8,184.8L615.4,185.0L617.1,184.6L618.7,184.8L620.4,185.3L622.0,185.7L623.6,186.4L625.3,186.4L627.0,186.3L628.6,186.4L630.2,185.9L631.9,185.9L633.5,185.5L635.2,185.5L636.9,185.2L638.5,185.3L640.1,185.0L641.8,184.7L643.5,184.3L645.1,183.4L646.8,182.3L648.4,179.7L650.0,177.9L651.7,176.8L653.4,176.0L655.0,175.5L656.6,175.9L658.3,175.7L660.0,176.4L661.6,177.2L663.2,178.0L664.9,178.6L666.5,178.4L668.2,179.1L669.9,180.2L671.5,181.0L673.1,182.7L674.8,184.2L676.5,186.4L678.1,188.7L679.8,190.9L681.4,193.8L683.0,196.6L684.7,199.3L686.4,203.1L688.0,206.2L689.6,210.2L691.3,213.9L693.0,218.4L694.6,221.9L696.2,226.5L697.9,230.2L699.5,235.0L701.2,238.3L702.9,243.4L704.5,246.8L706.1,251.8L707.8,256.0L709.5,257.8L711.1,257.6L712.8,256.9L714.4,256.5L716.0,256.5L717.7,255.8L719.4,255.0L721.0,253.5L722.6,253.5L724.3,256.1L726.0,260.0L727.6,261.9L729.2,264.2L730.9,265.0L732.5,266.8L734.2,268.4L735.9,270.8L737.5,272.7L739.1,275.2L740.8,277.9L742.5,280.3L744.1,282.5L745.8,285.6L747.4,287.9L749.0,289.1L750.7,288.7L752.4,287.3L754.0,287.0L755.6,287.2L757.3,288.5L759.0,290.1L760.6,290.1L762.2,290.4L763.9,290.0L765.5,290.7L767.2,293.0L768.9,293.4L770.5,293.3L772.1,292.4L773.8,291.0L775.5,290.7L777.1,290.9L778.8,290.2L780.4,289.4L782.0,290.5L783.7,290.1L785.4,289.0L787.0,288.5L788.6,288.8L790.3,289.0L792.0,289.7L793.6,289.8L795.2,290.6L796.9,290.8L798.5,291.1L800.2,291.8L801.9,293.4L803.5,295.2L805.1,296.8L806.8,297.5L808.5,298.6L810.1,300.1L811.8,302.4L813.4,304.5L815.0,305.9L816.7,307.2L818.4,308.0L820.0,308.9L821.6,310.7L823.3,311.1L825.0,312.6L826.6,313.1L828.2,314.5L829.9,315.8" stroke="#e00000" stroke-width="1.2" fill="none"/><path d="M-0.1,58.9L1.6,61.0L3.2,60.9L4.9,60.2L6.5,60.8L8.2,61.4L9.8,61.9L11.5,63.6L13.1,64.2L14.8,65.8L16.4,64.7L18.1,64.4L19.7,63.8L21.4,64.9L23.0,66.1L24.7,67.2L26.3,67.1L28.0,68.8L29.6,70.6L31.3,71.3L33.0,72.2L34.6,71.3L36.2,69.3L37.9,68.1L39.5,65.7L41.2,64.7L42.9,61.8L44.5,60.6L46.1,58.6L47.8,58.6L49.5,59.3L51.1,60.7L52.8,60.4L54.4,60.8L56.0,61.5L57.7,60.9L59.4,60.3L61.0,60.8L62.6,61.0L64.3,59.5L66.0,59.3L67.6,59.5L69.2,59.9L70.9,61.5L72.5,63.2L74.2,65.7L75.8,66.7L77.5,68.2L79.1,70.4L80.8,71.6L82.5,73.2L84.1,72.7L85.8,70.5L87.4,69.1L89.0,67.7L90.7,67.2L92.3,64.5L94.0,61.7L95.6,57.6L97.3,56.4L99.0,53.7L100.6,54.0L102.2,53.8L103.9,55.7L105.5,56.0L107.2,56.8L108.8,57.3L110.5,56.2L112.1,55.5L113.8,54.5L115.5,54.6L117.1,56.7L118.8,58.0L120.4,59.7L122.0,60.9L123.7,60.4L125.3,61.4L127.0,62.5L128.6,61.8L130.3,62.2L131.9,63.3L133.6,64.0L135.2,66.4L136.9,69.8L138.5,73.2L140.2,75.8L141.8,78.7L143.5,79.8L145.1,80.5L146.8,82.1L148.4,83.3L150.1,84.7L151.7,85.4L153.4,87.0L155.0,88.1L156.7,90.7L158.3,93.9L160.0,95.3L161.6,96.7L163.3,97.7L164.9,100.1L166.6,100.9L168.2,102.5L169.9,102.4L171.5,102.2L173.2,103.4L174.8,104.1L176.5,103.4L178.1,102.4L179.8,102.2L181.4,104.2L183.1,105.8L184.7,107.2L186.4,109.6L188.0,111.3L189.7,111.3L191.3,111.5L193.0,111.6L194.6,113.3L196.3,114.1L197.9,115.9L199.6,117.6L201.2,119.2L202.9,121.3L204.5,123.7L206.2,126.3L207.8,129.2L209.5,133.3L211.1,136.6L212.8,138.7L214.4,139.8L216.1,140.5L217.7,141.3L219.4,140.2L221.0,137.4L222.7,136.4L224.3,134.7L226.0,131.1L227.6,128.5L229.3,126.9L230.9,124.2L232.6,121.5L234.2,117.1L235.9,112.4L237.5,109.2L239.2,105.3L240.8,102.3L242.5,101.0L244.1,98.5L245.8,96.3L247.4,94.5L249.1,93.2L250.7,94.0L252.4,94.2L254.0,95.4L255.7,96.2L257.3,95.9L259.0,96.7L260.6,96.9L262.3,98.4L263.9,99.5L265.6,100.6L267.2,101.7L268.9,103.2L270.5,103.8L272.2,105.8L273.8,106.6L275.5,108.8L277.1,109.6L278.8,110.7L280.4,113.4L282.1,115.1L283.8,118.3L285.4,121.1L287.0,122.5L288.7,122.1L290.3,121.8L292.0,119.9L293.6,117.1L295.3,114.4L296.9,113.1L298.6,112.1L300.2,112.7L301.9,112.3L303.5,111.5L305.2,111.7L306.8,112.8L308.5,115.2L310.1,115.8L311.8,115.8L313.4,116.8L315.1,117.7L316.7,117.5L318.4,118.5L320.0,120.0L321.7,122.5L323.3,125.2L325.0,128.2L326.6,130.4L328.3,132.3L329.9,135.5L331.6,137.5L333.2,140.4L334.9,144.0L336.5,147.2L338.2,152.0L339.8,155.7L341.5,160.1L343.1,164.4L344.8,167.1L346.4,170.8L348.1,175.5L349.7,179.5L351.4,183.3L353.0,187.4L354.7,190.8L356.3,196.0L358.0,200.3L359.6,202.5L361.3,207.3L362.9,211.1L364.6,214.4L366.2,214.8L367.9,213.9L369.5,210.8L371.2,208.8L372.8,207.7L374.5,206.7L376.1,205.1L377.8,206.1L379.4,208.1L381.1,211.8L382.7,215.0L384.4,219.0L386.0,222.9L387.7,226.0L389.3,230.5L391.0,233.7L392.6,238.9L394.3,245.1L395.9,247.7L397.6,249.8L399.2,249.6L400.9,250.4L402.5,249.6L404.2,249.0L405.8,244.6L407.5,240.3L409.1,235.9L410.8,230.8L412.4,226.5L414.1,225.0L415.7,221.7L417.4,219.1L419.0,218.5L420.7,217.4L422.3,219.3L424.0,222.3L425.6,222.2L427.3,224.7L428.9,227.6L430.6,226.6L432.2,227.0L433.9,226.0L435.5,225.8L437.2,225.7L438.8,224.5L440.5,223.7L442.1,222.3L443.8,219.4L445.4,216.8L447.1,214.1L448.7,211.9L450.4,209.5L452.0,205.9L453.7,203.9L455.3,201.2L457.0,201.1L458.6,199.0L460.3,197.3L461.9,193.3L463.6,189.7L465.2,188.1L466.9,185.1L468.5,183.9L470.2,181.1L471.8,182.2L473.5,180.6L475.1,178.0L476.8,174.4L478.4,171.7L480.1,168.5L481.7,166.4L483.4,165.0L485.0,164.0L486.7,165.0L488.3,164.3L490.0,165.4L491.6,163.8L493.3,161.1L494.9,157.0L496.6,151.9L498.2,148.8L499.9,145.7L501.5,144.4L503.2,142.1L504.8,141.2L506.5,139.8L508.1,141.3L509.8,144.6L511.4,148.6L513.1,153.3L514.8,159.3L516.4,163.4L518.1,167.6L519.7,170.4L521.4,171.3L523.0,172.4L524.6,172.1L526.3,172.3L528.0,174.1L529.6,179.3L531.2,185.1L532.9,191.7L534.6,198.6L536.2,201.8L537.9,203.6L539.5,204.8L541.1,204.4L542.8,203.6L544.5,202.6L546.1,200.3L547.8,197.9L549.4,194.2L551.1,193.2L552.7,192.9L554.4,195.2L556.0,198.2L557.6,200.3L559.3,200.4L561.0,198.6L562.6,198.2L564.2,197.3L565.9,196.8L567.6,196.3L569.2,195.1L570.9,193.4L572.5,188.8L574.1,184.7L575.8,179.2L577.5,176.4L579.1,176.4L580.8,176.4L582.4,179.3L584.1,181.7L585.7,181.9L587.4,182.0L589.0,182.2L590.6,182.6L592.3,184.5L594.0,185.4L595.6,185.6L597.2,187.2L598.9,188.0L600.6,189.5L602.2,189.1L603.9,189.0L605.5,188.4L607.1,186.3L608.8,185.3L610.5,183.0L612.1,183.5L613.8,183.6L615.4,184.4L617.1,183.6L618.7,184.3L620.4,185.6L622.0,186.4L623.6,187.7L625.3,187.5L627.0,187.0L628.6,187.1L630.2,185.6L631.9,185.7L633.5,184.9L635.2,185.1L636.9,184.5L638.5,184.9L640.1,184.3L641.8,183.9L643.5,183.0L645.1,181.3L646.8,179.4L648.4,174.5L650.0,171.8L651.7,170.8L653.4,170.6L655.0,171.0L656.6,172.8L658.3,173.2L660.0,175.5L661.6,177.5L663.2,179.2L664.9,180.2L666.5,179.4L668.2,180.7L669.9,182.8L671.5,184.0L673.1,187.0L674.8,189.4L676.5,193.3L678.1,197.0L679.8,200.0L681.4,204.6L683.0,208.3L684.7,211.7L686.4,217.7L688.0,221.6L689.6,227.3L691.3,231.9L693.0,238.4L694.6,241.9L696.2,248.1L697.9,251.6L699.5,258.0L701.2,260.3L702.9,267.5L704.5,269.7L706.1,276.3L707.8,280.4L709.5,278.6L711.1,272.5L712.8,267.1L714.4,263.6L716.0,261.8L717.7,258.9L719.4,256.3L721.0,252.6L722.6,252.8L724.3,258.9L726.0,267.2L727.6,269.7L729.2,273.2L730.9,272.6L732.5,275.1L734.2,276.6L735.9,280.2L737.5,282.2L739.1,285.7L740.8,289.5L742.5,292.2L744.1,294.4L745.8,298.9L747.4,301.0L749.0,300.3L750.7,296.7L752.4,291.3L754.0,289.5L755.6,289.4L757.3,291.8L759.0,294.7L760.6,293.6L762.2,293.3L763.9,291.8L765.5,292.9L767.2,297.7L768.9,297.3L770.5,296.2L772.1,293.3L773.8,289.9L775.5,289.5L777.1,290.3L778.8,288.9L780.4,287.3L782.0,290.3L783.7,289.5L785.4,287.3L787.0,286.6L788.6,287.6L790.3,288.3L792.0,290.1L793.6,290.3L795.2,291.9L796.9,292.2L798.5,292.5L800.2,293.8L801.9,296.9L803.5,300.1L805.1,302.6L806.8,302.8L808.5,303.9L810.1,306.2L811.8,309.9L813.4,312.8L815.0,314.1L816.7,315.0L818.4,315.0L820.0,315.2L821.6,317.7L823.3,317.0L825.0,318.9L826.6,318.6L828.2,320.4L829.9,322.0" stroke="#e000e0" stroke-width="1.2" fill="none"/><line x1="382" y1="270.4" x2="830" y2="337" stroke="#222" stroke-width="1.5"/><line x1="636" y1="145.3" x2="830" y2="307" stroke="#222" stroke-width="1.5"/><line x1="533" y1="231.4" x2="593" y2="194.8" stroke="#222" stroke-width="1.1"/></g><rect x="2" y="379" width="101" height="13" fill="#dcdcdc"/><text x="9.6" y="389" font-family="'Liberation Serif',serif" font-size="10.6" font-weight="bold" textLength="17.2" lengthAdjust="spacingAndGlyphs">RSI</text><rect x="44" y="384" width="17" height="2" fill="#2a0a8c"/><text x="65.4" y="389.2" font-family="'Liberation Serif',serif" font-size="11.6" letter-spacing="0.7">(14)</text><circle cx="96" cy="386" r="3.9" fill="url(#glb)"/><path d="M96.5,389.6A3.6,3.6 0 1 1 99.3,384.5" stroke="#0a0a0a" stroke-width="1.1" fill="none"/><circle cx="95.4" cy="385.4" r="1.3" fill="#1a2858"/><line x1="0.5" y1="401.5" x2="830" y2="401.5" stroke="#9a9a9a" stroke-width="1" stroke-dasharray="2,2"/><line x1="0.5" y1="426.5" x2="830" y2="426.5" stroke="#9a9a9a" stroke-width="1" stroke-dasharray="2,2"/><line x1="0.5" y1="451.5" x2="830" y2="451.5" stroke="#9a9a9a" stroke-width="1" stroke-dasharray="2,2"/><line x1="0.5" y1="476.5" x2="830" y2="476.5" stroke="#9a9a9a" stroke-width="1" stroke-dasharray="2,2"/><line x1="41.5" y1="377.5" x2="41.5" y2="501" stroke="#9a9a9a" stroke-width="1" stroke-dasharray="2,2"/><line x1="107.5" y1="377.5" x2="107.5" y2="501" stroke="#9a9a9a" stroke-width="1" stroke-dasharray="2,2"/><line x1="176.5" y1="377.5" x2="176.5" y2="501" stroke="#9a9a9a" stroke-width="1" stroke-dasharray="2,2"/><line x1="245.5" y1="377.5" x2="245.5" y2="501" stroke="#9a9a9a" stroke-width="1" stroke-dasharray="2,2"/><line x1="316.5" y1="377.5" x2="316.5" y2="501" stroke="#9a9a9a" stroke-width="1" stroke-dasharray="2,2"/><line x1="389.5" y1="377.5" x2="389.5" y2="501" stroke="#9a9a9a" stroke-width="1" stroke-dasharray="2,2"/><line x1="457.5" y1="377.5" x2="457.5" y2="501" stroke="#9a9a9a" stroke-width="1" stroke-dasharray="2,2"/><line x1="521.5" y1="377.5" x2="521.5" y2="501" stroke="#9a9a9a" stroke-width="1" stroke-dasharray="2,2"/><line x1="592.5" y1="377.5" x2="592.5" y2="501" stroke="#9a9a9a" stroke-width="1" stroke-dasharray="2,2"/><line x1="661.5" y1="377.5" x2="661.5" y2="501" stroke="#9a9a9a" stroke-width="1" stroke-dasharray="2,2"/><line x1="732.5" y1="377.5" x2="732.5" y2="501" stroke="#9a9a9a" stroke-width="1" stroke-dasharray="2,2"/><line x1="803.5" y1="377.5" x2="803.5" y2="501" stroke="#9a9a9a" stroke-width="1" stroke-dasharray="2,2"/><g clip-path="url(#cr)"><path d="M0.0,453.3L2.4,457.3L5.6,446.1L7.2,455.4L9.3,455.4L10.4,446.5L12.5,451.7L14.4,453.3L17.3,437.4L18.9,446.1L20.8,447.7L23.7,447.4L25.9,450.1L28.4,455.4L32.0,452.5L33.6,445.3L37.6,431.4L38.7,439.0L42.4,427.8L45.5,426.2L47.1,427.0L50.3,443.0L53.5,434.6L55.6,441.3L57.2,436.9L60.7,434.6L63.6,437.4L65.5,432.6L68.4,450.1L70.3,444.5L73.5,448.5L76.4,453.3L78.3,451.3L81.5,457.3L84.7,437.8L87.1,430.5L88.9,440.5L89.8,432.1L91.9,428.6L93.5,420.3L94.6,431.0L95.9,426.2L99.1,428.6L101.5,438.2L103.9,440.5L105.5,439.4L108.7,433.4L111.6,434.2L113.8,431.4L115.4,440.5L117.5,446.9L119.5,441.7L122.3,442.6L124.3,444.2L126.6,435.8L127.9,440.5L129.5,438.2L131.4,439.4L132.7,451.3L134.2,451.3L136.3,460.8L139.0,454.5L141.4,458.1L144.6,451.3L149.4,458.1L152.3,451.3L155.5,459.2L157.7,459.7L160.6,463.4L164.1,464.0L165.4,458.6L170.2,458.6L172.6,463.4L175.0,452.2L176.9,453.8L179.4,450.6L182.1,455.4L185.3,465.0L187.4,466.1L188.5,458.1L190.9,456.0L193.3,460.2L195.4,460.2L197.3,456.5L198.6,460.8L200.5,459.2L202.9,460.5L206.1,473.3L207.7,476.5L210.9,474.6L215.2,476.5L216.5,456.0L219.7,450.9L222.1,443.0L225.3,432.6L226.4,437.4L228.5,437.4L230.6,431.8L233.3,415.8L235.4,417.4L237.0,413.4L238.9,417.4L241.3,412.6L243.7,411.8L245.3,409.7L246.9,411.3L249.3,409.4L251.7,428.6L253.6,434.2L254.9,425.4L256.5,431.0L258.4,424.6L261.3,442.1L264.5,432.6L266.9,435.8L269.2,445.8L271.6,446.5L273.2,449.3L274.5,442.6L276.4,446.1L278.8,445.8L280.4,448.5L282.5,457.3L284.4,458.6L286.3,458.6L287.6,446.5L289.5,450.1L292.4,434.2L294.0,433.4L296.4,433.4L298.0,442.1L299.6,443.3L301.5,436.9L303.2,439.4L304.8,439.7L306.8,445.8L309.6,449.3L311.6,441.7L313.2,444.9L315.5,442.1L317.1,447.4L319.2,449.0L320.8,455.4L322.4,454.5L325.1,462.1L327.2,463.4L329.5,459.7L330.7,463.7L333.9,464.5L335.5,468.5L338.7,473.3L340.3,478.9L342.7,471.7L347.5,474.1L350.7,480.5L352.8,476.5L355.5,480.5L357.9,477.8L360.3,467.7L362.4,472.5L363.5,471.7L366.7,459.7L370.7,445.8L372.6,452.5L375.5,446.5L377.4,458.1L380.3,456.0L381.9,459.2L383.8,453.3L386.3,458.1L389.1,463.4L390.7,454.5L393.4,463.4L396.3,451.3L398.2,455.4L400.7,449.7L403.0,450.1L405.8,439.7L408.5,431.4L410.6,440.1L412.2,437.4L414.9,438.2L416.5,430.5L418.1,433.0L419.7,444.2L421.3,435.8L423.9,442.1L425.5,440.5L429.0,442.1L431.4,434.2L433.8,436.2L436.2,436.2L438.6,440.1L439.8,434.2L441.4,440.5L444.2,428.6L447.8,431.4L449.7,424.1L451.7,421.4L452.6,428.6L455.8,427.3L457.4,423.8L461.3,416.1L462.9,419.3L465.0,419.3L467.3,411.3L468.9,419.8L471.3,435.3L473.4,426.2L476.6,418.7L477.7,422.2L479.3,419.3L481.7,427.8L484.1,422.5L486.5,431.4L487.8,432.6L489.4,426.6L492.1,421.4L495.3,412.3L497.4,417.4L499.3,415.5L502.2,424.1L504.9,419.3L507.3,428.6L509.2,428.6L510.5,446.5L514.5,450.1L515.6,454.5L518.2,452.9L520.1,447.7L523.0,442.6L525.2,448.5L527.3,450.6L528.9,459.7L532.5,466.1L534.1,460.8L537.3,458.1L538.9,450.6L540.5,454.1L542.4,444.9L543.5,447.7L545.6,440.5L548.3,438.5L550.9,442.6L553.6,446.9L556.3,453.3L558.4,451.3L560.5,452.2L561.6,438.5L565.3,443.0L568.0,439.0L570.4,433.4L573.6,419.3L575.5,429.4L578.0,430.5L581.2,439.0L583.2,435.8L584.4,443.3L586.3,433.4L588.3,434.2L591.5,443.3L593.1,442.1L594.7,437.4L596.7,445.3L598.3,444.2L603.1,436.9L605.8,433.4L611.1,429.4L613.5,441.3L615.4,436.9L616.7,436.9L621.5,446.5L622.8,438.5L626.3,437.4L627.6,435.8L629.5,437.4L631.1,435.8L632.4,438.2L634.6,434.2L636.7,444.5L638.3,437.4L641.0,439.4L642.3,433.4L644.7,432.1L647.4,413.4L650.6,432.6L653.8,434.2L656.7,438.5L659.5,444.5L660.7,436.9L662.3,446.5L665.5,433.4L667.9,445.3L669.8,448.1L672.3,454.5L674.6,443.3L676.6,450.1L679.0,453.8L682.3,463.5L683.8,458.6L685.6,460.4L687.8,465.3L692.4,466.6L695.5,470.3L697.3,467.7L698.7,471.3L700.6,470.3L705.7,476.3L707.5,457.1L708.2,457.1L710.1,439.2L711.9,444.7L715.2,438.5L716.6,444.7L720.3,437.4L722.9,449.4L726.5,453.1L730.2,443.4L733.1,446.5L736.2,453.1L738.6,453.1L740.4,449.4L743.5,455.3L745.3,455.3L749.9,438.5L751.7,437.4L755.0,445.2L758.1,451.6L759.4,441.0L763.0,448.9L767.2,446.1L768.5,448.3L769.6,437.4L773.6,434.3L776.4,440.3L778.7,437.4L779.5,444.3L781.3,444.3L784.6,430.6L786.8,439.7L788.6,438.8L791.0,443.4L794.6,438.5L797.0,443.4L799.6,444.0L802.9,450.2L804.3,450.2L806.9,442.9L808.3,444.3L811.6,454.4L813.4,449.4L815.6,452.0L818.4,452.0L820.8,446.5L822.6,454.4L825.1,448.0L829.9,453.4" stroke="#3d1aa0" stroke-width="1.1" fill="none"/></g><rect x="2" y="508" width="393" height="13" fill="#dcdcdc"/><text x="9.6" y="518" font-family="'DejaVu Sans','Liberation Sans',sans-serif" font-size="9.5" font-weight="bold" textLength="29.2" lengthAdjust="spacingAndGlyphs">MACD</text><text x="54.5" y="518" font-family="'DejaVu Sans','Liberation Sans',sans-serif" font-size="10.2" textLength="118.5" lengthAdjust="spacingAndGlyphs">(12, 26, 9 - EMA, EMA)</text><circle cx="183" cy="515" r="3.9" fill="url(#glb)"/><path d="M183.5,518.6A3.6,3.6 0 1 1 186.3,513.5" stroke="#0a0a0a" stroke-width="1.1" fill="none"/><circle cx="182.4" cy="514.4" r="1.3" fill="#1a2858"/><rect x="203" y="513" width="17" height="2" fill="#063232"/><rect x="224" y="511" width="8" height="8" rx="1" fill="#f7f7fd"/><path d="M225.3,514.2L227.6,517.3L231,513" stroke="#1b6de0" stroke-width="2" fill="none" stroke-linejoin="round"/><rect x="238" y="513" width="17" height="2" fill="#2a0a8c"/><text x="259.6" y="518" font-family="'DejaVu Sans','Liberation Sans',sans-serif" font-size="9.8" textLength="41.2" lengthAdjust="spacing">SIGNAL</text><rect x="306" y="511" width="8" height="8" rx="1" fill="#f7f7fd"/><path d="M307.3,514.2L309.6,517.3L313,513" stroke="#1b6de0" stroke-width="2" fill="none" stroke-linejoin="round"/><rect x="320" y="513" width="17" height="2" fill="#8a0a2a"/><text x="341.4" y="518" font-family="'DejaVu Sans','Liberation Sans',sans-serif" font-size="9.8" textLength="32.2" lengthAdjust="spacing">OSMA</text><rect x="379" y="511" width="8" height="8" rx="1" fill="#f7f7fd"/><path d="M380.3,514.2L382.6,517.3L386,513" stroke="#1b6de0" stroke-width="2" fill="none" stroke-linejoin="round"/><line x1="0.5" y1="533.5" x2="830" y2="533.5" stroke="#9a9a9a" stroke-width="1" stroke-dasharray="2,2"/><line x1="0.5" y1="556.5" x2="830" y2="556.5" stroke="#9a9a9a" stroke-width="1" stroke-dasharray="2,2"/><line x1="0.5" y1="579.5" x2="830" y2="579.5" stroke="#9a9a9a" stroke-width="1" stroke-dasharray="2,2"/><line x1="0.5" y1="603.5" x2="830" y2="603.5" stroke="#9a9a9a" stroke-width="1" stroke-dasharray="2,2"/><line x1="41.5" y1="506.5" x2="41.5" y2="630" stroke="#9a9a9a" stroke-width="1" stroke-dasharray="2,2"/><line x1="107.5" y1="506.5" x2="107.5" y2="630" stroke="#9a9a9a" stroke-width="1" stroke-dasharray="2,2"/><line x1="176.5" y1="506.5" x2="176.5" y2="630" stroke="#9a9a9a" stroke-width="1" stroke-dasharray="2,2"/><line x1="245.5" y1="506.5" x2="245.5" y2="630" stroke="#9a9a9a" stroke-width="1" stroke-dasharray="2,2"/><line x1="316.5" y1="506.5" x2="316.5" y2="630" stroke="#9a9a9a" stroke-width="1" stroke-dasharray="2,2"/><line x1="389.5" y1="506.5" x2="389.5" y2="630" stroke="#9a9a9a" stroke-width="1" stroke-dasharray="2,2"/><line x1="457.5" y1="506.5" x2="457.5" y2="630" stroke="#9a9a9a" stroke-width="1" stroke-dasharray="2,2"/><line x1="521.5" y1="506.5" x2="521.5" y2="630" stroke="#9a9a9a" stroke-width="1" stroke-dasharray="2,2"/><line x1="592.5" y1="506.5" x2="592.5" y2="630" stroke="#9a9a9a" stroke-width="1" stroke-dasharray="2,2"/><line x1="661.5" y1="506.5" x2="661.5" y2="630" stroke="#9a9a9a" stroke-width="1" stroke-dasharray="2,2"/><line x1="732.5" y1="506.5" x2="732.5" y2="630" stroke="#9a9a9a" stroke-width="1" stroke-dasharray="2,2"/><line x1="803.5" y1="506.5" x2="803.5" y2="630" stroke="#9a9a9a" stroke-width="1" stroke-dasharray="2,2"/><g clip-path="url(#cd)"><path d="M0.77,556.5h1.70V563.3h-1.70ZM2.42,556.5h1.70V560.6h-1.70ZM4.07,556.5h1.70V557.5h-1.70ZM5.72,556.5h1.70V557.5h-1.70ZM7.37,555.5h1.70V556.5h-1.70ZM9.02,555.4h1.70V556.5h-1.70ZM10.67,556.5h1.70V557.5h-1.70ZM12.32,555.5h1.70V556.5h-1.70ZM13.97,556.5h1.70V557.5h-1.70ZM15.62,553.9h1.70V556.5h-1.70ZM17.27,552.6h1.70V556.5h-1.70ZM18.92,551.1h1.70V556.5h-1.70ZM20.57,552.2h1.70V556.5h-1.70ZM22.22,553.5h1.70V556.5h-1.70ZM23.88,554.4h1.70V556.5h-1.70ZM25.52,553.4h1.70V556.5h-1.70ZM27.17,555.2h1.70V556.5h-1.70ZM28.82,556.5h1.70V557.5h-1.70ZM30.47,556.5h1.70V557.5h-1.70ZM32.12,556.5h1.70V557.5h-1.70ZM33.77,554.3h1.70V556.5h-1.70ZM35.42,550.7h1.70V556.5h-1.70ZM37.07,549.0h1.70V556.5h-1.70ZM38.72,545.9h1.70V556.5h-1.70ZM40.38,545.5h1.70V556.5h-1.70ZM42.02,542.5h1.70V556.5h-1.70ZM43.67,542.6h1.70V556.5h-1.70ZM45.32,541.6h1.70V556.5h-1.70ZM46.97,543.8h1.70V556.5h-1.70ZM48.62,546.8h1.70V556.5h-1.70ZM50.27,550.5h1.70V556.5h-1.70ZM51.92,551.0h1.70V556.5h-1.70ZM53.57,552.5h1.70V556.5h-1.70ZM55.22,554.2h1.70V556.5h-1.70ZM56.88,553.9h1.70V556.5h-1.70ZM58.52,553.4h1.70V556.5h-1.70ZM60.17,554.7h1.70V556.5h-1.70ZM61.82,555.4h1.70V556.5h-1.70ZM63.47,553.6h1.70V556.5h-1.70ZM65.12,553.8h1.70V556.5h-1.70ZM66.77,554.7h1.70V556.5h-1.70ZM68.42,555.5h1.70V556.5h-1.70ZM70.08,556.5h1.70V558.2h-1.70ZM71.72,556.5h1.70V560.4h-1.70ZM73.38,556.5h1.70V563.4h-1.70ZM75.02,556.5h1.70V563.6h-1.70ZM76.67,556.5h1.70V564.5h-1.70ZM78.32,556.5h1.70V566.0h-1.70ZM79.97,556.5h1.70V565.6h-1.70ZM81.62,556.5h1.70V565.9h-1.70ZM83.27,556.5h1.70V563.1h-1.70ZM84.92,556.5h1.70V558.4h-1.70ZM86.57,555.5h1.70V556.5h-1.70ZM88.22,553.3h1.70V556.5h-1.70ZM89.88,552.6h1.70V556.5h-1.70ZM91.52,549.1h1.70V556.5h-1.70ZM93.17,545.9h1.70V556.5h-1.70ZM94.82,541.6h1.70V556.5h-1.70ZM96.47,542.2h1.70V556.5h-1.70ZM98.12,540.8h1.70V556.5h-1.70ZM99.77,544.1h1.70V556.5h-1.70ZM101.42,546.4h1.70V556.5h-1.70ZM103.07,551.4h1.70V556.5h-1.70ZM104.72,553.2h1.70V556.5h-1.70ZM106.38,555.5h1.70V556.5h-1.70ZM108.02,556.5h1.70V557.5h-1.70ZM109.67,555.5h1.70V556.5h-1.70ZM111.32,555.4h1.70V556.5h-1.70ZM112.97,554.6h1.70V556.5h-1.70ZM114.62,555.5h1.70V556.5h-1.70ZM116.27,556.5h1.70V559.4h-1.70ZM117.92,556.5h1.70V561.3h-1.70ZM119.57,556.5h1.70V563.3h-1.70ZM121.22,556.5h1.70V564.3h-1.70ZM122.88,556.5h1.70V562.6h-1.70ZM124.52,556.5h1.70V563.1h-1.70ZM126.17,556.5h1.70V563.8h-1.70ZM127.82,556.5h1.70V561.5h-1.70ZM129.47,556.5h1.70V561.2h-1.70ZM131.12,556.5h1.70V561.9h-1.70ZM132.78,556.5h1.70V561.9h-1.70ZM134.42,556.5h1.70V564.3h-1.70ZM136.07,556.5h1.70V567.4h-1.70ZM137.72,556.5h1.70V569.9h-1.70ZM139.38,556.5h1.70V570.6h-1.70ZM141.03,556.5h1.70V571.3h-1.70ZM142.67,556.5h1.70V569.5h-1.70ZM144.32,556.5h1.70V567.3h-1.70ZM145.97,556.5h1.70V566.5h-1.70ZM147.62,556.5h1.70V565.2h-1.70ZM149.28,556.5h1.70V564.4h-1.70ZM150.92,556.5h1.70V562.8h-1.70ZM152.57,556.5h1.70V562.3h-1.70ZM154.22,556.5h1.70V561.4h-1.70ZM155.88,556.5h1.70V562.4h-1.70ZM157.52,556.5h1.70V563.8h-1.70ZM159.17,556.5h1.70V562.8h-1.70ZM160.82,556.5h1.70V561.9h-1.70ZM162.47,556.5h1.70V560.6h-1.70ZM164.12,556.5h1.70V561.0h-1.70ZM165.77,556.5h1.70V559.6h-1.70ZM167.42,556.5h1.70V559.3h-1.70ZM169.07,556.5h1.70V557.5h-1.70ZM170.72,555.0h1.70V556.5h-1.70ZM172.38,555.0h1.70V556.5h-1.70ZM174.02,554.4h1.70V556.5h-1.70ZM175.67,552.3h1.70V556.5h-1.70ZM177.32,550.4h1.70V556.5h-1.70ZM178.97,549.8h1.70V556.5h-1.70ZM180.62,551.7h1.70V556.5h-1.70ZM182.27,553.0h1.70V556.5h-1.70ZM183.92,553.9h1.70V556.5h-1.70ZM185.57,555.5h1.70V556.5h-1.70ZM187.22,555.5h1.70V556.5h-1.70ZM188.88,555.2h1.70V556.5h-1.70ZM190.52,554.3h1.70V556.5h-1.70ZM192.17,553.5h1.70V556.5h-1.70ZM193.82,554.6h1.70V556.5h-1.70ZM195.47,554.6h1.70V556.5h-1.70ZM197.12,555.5h1.70V556.5h-1.70ZM198.77,555.5h1.70V556.5h-1.70ZM200.42,556.5h1.70V557.5h-1.70ZM202.07,556.5h1.70V557.8h-1.70ZM203.72,556.5h1.70V558.9h-1.70ZM205.38,556.5h1.70V559.8h-1.70ZM207.02,556.5h1.70V560.9h-1.70ZM208.67,556.5h1.70V562.8h-1.70ZM210.32,556.5h1.70V563.5h-1.70ZM211.97,556.5h1.70V562.8h-1.70ZM213.62,556.5h1.70V561.2h-1.70ZM215.27,556.5h1.70V559.4h-1.70ZM216.92,556.5h1.70V558.1h-1.70ZM218.57,555.1h1.70V556.5h-1.70ZM220.22,551.1h1.70V556.5h-1.70ZM221.88,549.5h1.70V556.5h-1.70ZM223.52,547.7h1.70V556.5h-1.70ZM225.17,544.3h1.70V556.5h-1.70ZM226.82,542.6h1.70V556.5h-1.70ZM228.47,542.3h1.70V556.5h-1.70ZM230.12,541.1h1.70V556.5h-1.70ZM231.77,540.2h1.70V556.5h-1.70ZM233.42,537.8h1.70V556.5h-1.70ZM235.07,535.5h1.70V556.5h-1.70ZM236.72,535.4h1.70V556.5h-1.70ZM238.38,534.6h1.70V556.5h-1.70ZM240.02,535.2h1.70V556.5h-1.70ZM241.67,537.8h1.70V556.5h-1.70ZM243.32,538.8h1.70V556.5h-1.70ZM244.97,539.9h1.70V556.5h-1.70ZM246.62,541.6h1.70V556.5h-1.70ZM248.27,543.7h1.70V556.5h-1.70ZM249.92,547.9h1.70V556.5h-1.70ZM251.57,550.9h1.70V556.5h-1.70ZM253.22,554.5h1.70V556.5h-1.70ZM254.88,556.5h1.70V557.5h-1.70ZM256.52,556.5h1.70V557.9h-1.70ZM258.18,556.5h1.70V559.8h-1.70ZM259.82,556.5h1.70V560.6h-1.70ZM261.47,556.5h1.70V562.7h-1.70ZM263.12,556.5h1.70V563.9h-1.70ZM264.77,556.5h1.70V564.8h-1.70ZM266.43,556.5h1.70V565.5h-1.70ZM268.07,556.5h1.70V566.5h-1.70ZM269.72,556.5h1.70V566.0h-1.70ZM271.38,556.5h1.70V567.1h-1.70ZM273.02,556.5h1.70V566.6h-1.70ZM274.68,556.5h1.70V567.6h-1.70ZM276.32,556.5h1.70V566.7h-1.70ZM277.97,556.5h1.70V566.4h-1.70ZM279.62,556.5h1.70V567.5h-1.70ZM281.27,556.5h1.70V567.3h-1.70ZM282.93,556.5h1.70V568.6h-1.70ZM284.57,556.5h1.70V569.2h-1.70ZM286.22,556.5h1.70V568.0h-1.70ZM287.88,556.5h1.70V565.1h-1.70ZM289.52,556.5h1.70V562.6h-1.70ZM291.18,556.5h1.70V558.9h-1.70ZM292.82,554.9h1.70V556.5h-1.70ZM294.47,551.6h1.70V556.5h-1.70ZM296.12,550.4h1.70V556.5h-1.70ZM297.77,549.9h1.70V556.5h-1.70ZM299.43,551.2h1.70V556.5h-1.70ZM301.07,551.3h1.70V556.5h-1.70ZM302.72,551.0h1.70V556.5h-1.70ZM304.38,551.9h1.70V556.5h-1.70ZM306.02,553.7h1.70V556.5h-1.70ZM307.68,556.5h1.70V557.5h-1.70ZM309.32,556.5h1.70V557.5h-1.70ZM310.97,556.5h1.70V557.5h-1.70ZM312.62,556.5h1.70V557.6h-1.70ZM314.27,556.5h1.70V558.2h-1.70ZM315.92,556.5h1.70V557.5h-1.70ZM317.57,556.5h1.70V558.1h-1.70ZM319.22,556.5h1.70V559.2h-1.70ZM320.88,556.5h1.70V561.0h-1.70ZM322.52,556.5h1.70V562.6h-1.70ZM324.17,556.5h1.70V564.1h-1.70ZM325.82,556.5h1.70V564.5h-1.70ZM327.47,556.5h1.70V564.5h-1.70ZM329.12,556.5h1.70V565.5h-1.70ZM330.77,556.5h1.70V565.1h-1.70ZM332.42,556.5h1.70V565.5h-1.70ZM334.07,556.5h1.70V566.4h-1.70ZM335.72,556.5h1.70V566.6h-1.70ZM337.38,556.5h1.70V567.9h-1.70ZM339.02,556.5h1.70V567.9h-1.70ZM340.67,556.5h1.70V568.3h-1.70ZM342.32,556.5h1.70V568.4h-1.70ZM343.97,556.5h1.70V566.9h-1.70ZM345.62,556.5h1.70V566.5h-1.70ZM347.27,556.5h1.70V566.6h-1.70ZM348.92,556.5h1.70V566.0h-1.70ZM350.57,556.5h1.70V565.3h-1.70ZM352.22,556.5h1.70V564.7h-1.70ZM353.88,556.5h1.70V563.7h-1.70ZM355.52,556.5h1.70V563.8h-1.70ZM357.17,556.5h1.70V563.3h-1.70ZM358.82,556.5h1.70V561.3h-1.70ZM360.47,556.5h1.70V561.3h-1.70ZM362.12,556.5h1.70V560.5h-1.70ZM363.77,556.5h1.70V559.5h-1.70ZM365.42,556.5h1.70V557.5h-1.70ZM367.07,553.8h1.70V556.5h-1.70ZM368.72,550.0h1.70V556.5h-1.70ZM370.38,547.6h1.70V556.5h-1.70ZM372.02,546.3h1.70V556.5h-1.70ZM373.67,545.3h1.70V556.5h-1.70ZM375.32,544.3h1.70V556.5h-1.70ZM376.97,545.2h1.70V556.5h-1.70ZM378.62,546.8h1.70V556.5h-1.70ZM380.27,549.2h1.70V556.5h-1.70ZM381.92,550.9h1.70V556.5h-1.70ZM383.57,552.8h1.70V556.5h-1.70ZM385.22,554.4h1.70V556.5h-1.70ZM386.88,555.1h1.70V556.5h-1.70ZM388.52,556.5h1.70V557.5h-1.70ZM390.17,556.5h1.70V557.5h-1.70ZM391.82,556.5h1.70V558.2h-1.70ZM393.47,556.5h1.70V559.8h-1.70ZM395.12,556.5h1.70V559.0h-1.70ZM396.77,556.5h1.70V558.1h-1.70ZM398.42,555.5h1.70V556.5h-1.70ZM400.07,555.1h1.70V556.5h-1.70ZM401.72,553.4h1.70V556.5h-1.70ZM403.38,552.1h1.70V556.5h-1.70ZM405.02,549.1h1.70V556.5h-1.70ZM406.67,546.7h1.70V556.5h-1.70ZM408.32,544.7h1.70V556.5h-1.70ZM409.97,542.8h1.70V556.5h-1.70ZM411.62,541.7h1.70V556.5h-1.70ZM413.27,542.5h1.70V556.5h-1.70ZM414.92,542.2h1.70V556.5h-1.70ZM416.57,542.5h1.70V556.5h-1.70ZM418.22,544.1h1.70V556.5h-1.70ZM419.88,545.3h1.70V556.5h-1.70ZM421.52,548.1h1.70V556.5h-1.70ZM423.17,551.2h1.70V556.5h-1.70ZM424.82,552.0h1.70V556.5h-1.70ZM426.47,554.2h1.70V556.5h-1.70ZM428.12,555.5h1.70V556.5h-1.70ZM429.77,555.5h1.70V556.5h-1.70ZM431.42,555.5h1.70V556.5h-1.70ZM433.07,555.3h1.70V556.5h-1.70ZM434.72,555.3h1.70V556.5h-1.70ZM436.38,555.4h1.70V556.5h-1.70ZM438.02,554.8h1.70V556.5h-1.70ZM439.67,554.6h1.70V556.5h-1.70ZM441.32,554.0h1.70V556.5h-1.70ZM442.97,552.7h1.70V556.5h-1.70ZM444.62,551.8h1.70V556.5h-1.70ZM446.27,551.0h1.70V556.5h-1.70ZM447.92,550.7h1.70V556.5h-1.70ZM449.57,550.3h1.70V556.5h-1.70ZM451.22,549.3h1.70V556.5h-1.70ZM452.88,549.6h1.70V556.5h-1.70ZM454.52,549.3h1.70V556.5h-1.70ZM456.17,551.0h1.70V556.5h-1.70ZM457.82,551.0h1.70V556.5h-1.70ZM459.47,551.3h1.70V556.5h-1.70ZM461.12,550.1h1.70V556.5h-1.70ZM462.77,549.3h1.70V556.5h-1.70ZM464.42,550.1h1.70V556.5h-1.70ZM466.07,549.9h1.70V556.5h-1.70ZM467.72,550.9h1.70V556.5h-1.70ZM469.38,550.7h1.70V556.5h-1.70ZM471.02,553.5h1.70V556.5h-1.70ZM472.67,553.8h1.70V556.5h-1.70ZM474.32,553.3h1.70V556.5h-1.70ZM475.97,552.1h1.70V556.5h-1.70ZM477.62,551.8h1.70V556.5h-1.70ZM479.27,551.2h1.70V556.5h-1.70ZM480.92,551.5h1.70V556.5h-1.70ZM482.57,552.5h1.70V556.5h-1.70ZM484.22,553.6h1.70V556.5h-1.70ZM485.88,555.5h1.70V556.5h-1.70ZM487.52,556.5h1.70V557.5h-1.70ZM489.17,556.5h1.70V558.9h-1.70ZM490.82,556.5h1.70V558.4h-1.70ZM492.47,556.5h1.70V557.5h-1.70ZM494.12,554.7h1.70V556.5h-1.70ZM495.77,551.8h1.70V556.5h-1.70ZM497.42,551.1h1.70V556.5h-1.70ZM499.07,550.5h1.70V556.5h-1.70ZM500.72,551.7h1.70V556.5h-1.70ZM502.38,551.8h1.70V556.5h-1.70ZM504.02,553.2h1.70V556.5h-1.70ZM505.67,553.9h1.70V556.5h-1.70ZM507.32,556.5h1.70V557.5h-1.70ZM508.97,556.5h1.70V561.7h-1.70ZM510.62,556.5h1.70V565.8h-1.70ZM512.27,556.5h1.70V569.6h-1.70ZM513.92,556.5h1.70V573.6h-1.70ZM515.57,556.5h1.70V575.1h-1.70ZM517.23,556.5h1.70V576.1h-1.70ZM518.88,556.5h1.70V575.5h-1.70ZM520.52,556.5h1.70V573.4h-1.70ZM522.17,556.5h1.70V571.5h-1.70ZM523.82,556.5h1.70V568.8h-1.70ZM525.48,556.5h1.70V566.8h-1.70ZM527.12,556.5h1.70V566.3h-1.70ZM528.77,556.5h1.70V568.3h-1.70ZM530.42,556.5h1.70V570.2h-1.70ZM532.07,556.5h1.70V572.1h-1.70ZM533.73,556.5h1.70V573.6h-1.70ZM535.38,556.5h1.70V572.0h-1.70ZM537.02,556.5h1.70V569.6h-1.70ZM538.67,556.5h1.70V567.2h-1.70ZM540.32,556.5h1.70V563.9h-1.70ZM541.98,556.5h1.70V560.9h-1.70ZM543.62,556.5h1.70V558.3h-1.70ZM545.27,555.3h1.70V556.5h-1.70ZM546.92,552.7h1.70V556.5h-1.70ZM548.57,549.7h1.70V556.5h-1.70ZM550.23,549.2h1.70V556.5h-1.70ZM551.88,549.3h1.70V556.5h-1.70ZM553.52,551.2h1.70V556.5h-1.70ZM555.17,553.4h1.70V556.5h-1.70ZM556.82,554.6h1.70V556.5h-1.70ZM558.48,554.2h1.70V556.5h-1.70ZM560.12,552.8h1.70V556.5h-1.70ZM561.77,552.4h1.70V556.5h-1.70ZM563.42,551.9h1.70V556.5h-1.70ZM565.07,551.8h1.70V556.5h-1.70ZM566.73,551.7h1.70V556.5h-1.70ZM568.38,551.2h1.70V556.5h-1.70ZM570.02,550.5h1.70V556.5h-1.70ZM571.67,548.0h1.70V556.5h-1.70ZM573.32,546.2h1.70V556.5h-1.70ZM574.98,543.7h1.70V556.5h-1.70ZM576.62,543.7h1.70V556.5h-1.70ZM578.27,546.0h1.70V556.5h-1.70ZM579.92,547.9h1.70V556.5h-1.70ZM581.57,551.8h1.70V556.5h-1.70ZM583.23,554.8h1.70V556.5h-1.70ZM584.88,555.5h1.70V556.5h-1.70ZM586.52,555.5h1.70V556.5h-1.70ZM588.17,556.5h1.70V557.5h-1.70ZM589.82,556.5h1.70V557.5h-1.70ZM591.48,556.5h1.70V558.7h-1.70ZM593.12,556.5h1.70V559.2h-1.70ZM594.77,556.5h1.70V559.0h-1.70ZM596.42,556.5h1.70V559.9h-1.70ZM598.07,556.5h1.70V560.0h-1.70ZM599.73,556.5h1.70V560.6h-1.70ZM601.38,556.5h1.70V559.6h-1.70ZM603.02,556.5h1.70V559.0h-1.70ZM604.67,556.5h1.70V558.1h-1.70ZM606.32,555.5h1.70V556.5h-1.70ZM607.98,555.5h1.70V556.5h-1.70ZM609.62,554.0h1.70V556.5h-1.70ZM611.27,554.8h1.70V556.5h-1.70ZM612.92,555.2h1.70V556.5h-1.70ZM614.57,555.5h1.70V556.5h-1.70ZM616.23,555.5h1.70V556.5h-1.70ZM617.88,555.5h1.70V556.5h-1.70ZM619.52,556.5h1.70V557.5h-1.70ZM621.17,556.5h1.70V557.9h-1.70ZM622.82,556.5h1.70V558.6h-1.70ZM624.48,556.5h1.70V558.1h-1.70ZM626.12,556.5h1.70V557.5h-1.70ZM627.77,556.5h1.70V557.5h-1.70ZM629.42,555.5h1.70V556.5h-1.70ZM631.07,555.5h1.70V556.5h-1.70ZM632.72,555.5h1.70V556.5h-1.70ZM634.38,555.5h1.70V556.5h-1.70ZM636.02,555.5h1.70V556.5h-1.70ZM637.67,555.5h1.70V556.5h-1.70ZM639.32,555.5h1.70V556.5h-1.70ZM640.97,555.5h1.70V556.5h-1.70ZM642.62,555.2h1.70V556.5h-1.70ZM644.27,554.2h1.70V556.5h-1.70ZM645.92,553.2h1.70V556.5h-1.70ZM647.57,550.2h1.70V556.5h-1.70ZM649.22,549.3h1.70V556.5h-1.70ZM650.88,550.1h1.70V556.5h-1.70ZM652.52,551.3h1.70V556.5h-1.70ZM654.17,552.9h1.70V556.5h-1.70ZM655.82,555.3h1.70V556.5h-1.70ZM657.47,555.5h1.70V556.5h-1.70ZM659.12,556.5h1.70V558.5h-1.70ZM660.77,556.5h1.70V560.1h-1.70ZM662.42,556.5h1.70V561.0h-1.70ZM664.07,556.5h1.70V561.3h-1.70ZM665.72,556.5h1.70V560.1h-1.70ZM667.38,556.5h1.70V560.7h-1.70ZM669.02,556.5h1.70V561.6h-1.70ZM670.67,556.5h1.70V561.8h-1.70ZM672.32,556.5h1.70V563.1h-1.70ZM673.97,556.5h1.70V563.6h-1.70ZM675.62,556.5h1.70V565.0h-1.70ZM677.27,556.5h1.70V565.9h-1.70ZM678.92,556.5h1.70V566.0h-1.70ZM680.57,556.5h1.70V567.0h-1.70ZM682.22,556.5h1.70V567.1h-1.70ZM683.88,556.5h1.70V566.9h-1.70ZM685.52,556.5h1.70V568.1h-1.70ZM687.17,556.5h1.70V567.6h-1.70ZM688.82,556.5h1.70V568.1h-1.70ZM690.47,556.5h1.70V567.7h-1.70ZM692.12,556.5h1.70V568.2h-1.70ZM693.77,556.5h1.70V566.8h-1.70ZM695.42,556.5h1.70V566.9h-1.70ZM697.07,556.5h1.70V565.5h-1.70ZM698.72,556.5h1.70V565.6h-1.70ZM700.38,556.5h1.70V563.5h-1.70ZM702.02,556.5h1.70V564.0h-1.70ZM703.67,556.5h1.70V562.1h-1.70ZM705.32,556.5h1.70V562.2h-1.70ZM706.97,556.5h1.70V561.2h-1.70ZM708.62,556.5h1.70V557.8h-1.70ZM710.27,553.1h1.70V556.5h-1.70ZM711.92,549.4h1.70V556.5h-1.70ZM713.57,547.3h1.70V556.5h-1.70ZM715.22,546.4h1.70V556.5h-1.70ZM716.88,545.3h1.70V556.5h-1.70ZM718.52,544.6h1.70V556.5h-1.70ZM720.17,543.6h1.70V556.5h-1.70ZM721.82,544.8h1.70V556.5h-1.70ZM723.47,548.8h1.70V556.5h-1.70ZM725.12,553.2h1.70V556.5h-1.70ZM726.77,554.0h1.70V556.5h-1.70ZM728.42,555.2h1.70V556.5h-1.70ZM730.07,554.3h1.70V556.5h-1.70ZM731.72,554.9h1.70V556.5h-1.70ZM733.38,555.0h1.70V556.5h-1.70ZM735.02,555.5h1.70V556.5h-1.70ZM736.67,555.5h1.70V556.5h-1.70ZM738.32,556.5h1.70V557.5h-1.70ZM739.97,556.5h1.70V557.5h-1.70ZM741.62,556.5h1.70V557.5h-1.70ZM743.27,556.5h1.70V557.5h-1.70ZM744.92,556.5h1.70V558.1h-1.70ZM746.57,556.5h1.70V557.7h-1.70ZM748.22,555.5h1.70V556.5h-1.70ZM749.88,554.0h1.70V556.5h-1.70ZM751.52,551.4h1.70V556.5h-1.70ZM753.17,550.7h1.70V556.5h-1.70ZM754.82,550.9h1.70V556.5h-1.70ZM756.47,552.1h1.70V556.5h-1.70ZM758.12,553.3h1.70V556.5h-1.70ZM759.77,552.8h1.70V556.5h-1.70ZM761.42,552.7h1.70V556.5h-1.70ZM763.07,552.2h1.70V556.5h-1.70ZM764.72,552.8h1.70V556.5h-1.70ZM766.38,554.9h1.70V556.5h-1.70ZM768.02,554.5h1.70V556.5h-1.70ZM769.67,554.0h1.70V556.5h-1.70ZM771.32,552.8h1.70V556.5h-1.70ZM772.97,551.7h1.70V556.5h-1.70ZM774.62,552.0h1.70V556.5h-1.70ZM776.27,552.8h1.70V556.5h-1.70ZM777.92,552.6h1.70V556.5h-1.70ZM779.57,552.3h1.70V556.5h-1.70ZM781.22,554.1h1.70V556.5h-1.70ZM782.88,554.0h1.70V556.5h-1.70ZM784.52,553.3h1.70V556.5h-1.70ZM786.17,553.5h1.70V556.5h-1.70ZM787.82,554.3h1.70V556.5h-1.70ZM789.47,554.9h1.70V556.5h-1.70ZM791.12,555.5h1.70V556.5h-1.70ZM792.77,555.5h1.70V556.5h-1.70ZM794.42,556.5h1.70V557.5h-1.70ZM796.07,556.5h1.70V557.5h-1.70ZM797.72,556.5h1.70V557.5h-1.70ZM799.38,556.5h1.70V557.5h-1.70ZM801.02,556.5h1.70V558.0h-1.70ZM802.67,556.5h1.70V558.9h-1.70ZM804.32,556.5h1.70V559.3h-1.70ZM805.97,556.5h1.70V558.7h-1.70ZM807.62,556.5h1.70V558.5h-1.70ZM809.27,556.5h1.70V558.8h-1.70ZM810.92,556.5h1.70V559.5h-1.70ZM812.57,556.5h1.70V559.8h-1.70ZM814.22,556.5h1.70V559.4h-1.70ZM815.88,556.5h1.70V558.9h-1.70ZM817.52,556.5h1.70V558.1h-1.70ZM819.17,556.5h1.70V557.5h-1.70ZM820.82,556.5h1.70V557.8h-1.70ZM822.47,556.5h1.70V557.5h-1.70ZM824.12,556.5h1.70V557.5h-1.70Z" fill="#8c0030"/><path d="M0.0,588.8L5.0,591.3L10.1,591.3L15.9,590.8L19.3,588.5L22.7,587.1L26.9,585.8L31.1,585.8L35.3,582.1L40.3,576.2L44.5,568.7L48.7,558.6L52.0,554.4L56.2,552.7L60.4,551.9L64.6,551.1L68.0,551.1L71.3,554.4L75.5,559.5L79.7,565.7L83.1,570.4L87.3,568.7L91.5,562.8L96.5,554.4L100.7,546.9L104.1,545.2L109.1,545.2L114.2,545.2L117.5,548.5L124.2,555.3L129.3,556.6L132.6,557.8L136.8,566.2L140.0,572.0L142.6,578.8L148.4,588.0L154.3,592.5L160.2,596.9L166.1,600.2L171.9,598.9L177.8,594.7L183.7,590.2L190.4,589.7L197.1,588.5L203.8,588.5L209.7,593.9L215.6,599.2L218.9,598.9L224.0,592.2L229.0,583.0L234.0,570.4L239.1,555.3L244.1,541.0L249.2,530.1L254.2,527.6L259.2,528.4L264.3,532.6L269.3,536.8L275.0,546.9L280.1,556.9L285.1,566.2L291.0,571.2L296.9,567.8L303.6,564.5L308.6,564.0L315.3,564.5L320.4,567.0L327.1,575.4L333.8,583.0L340.5,593.9L347.2,604.8L353.9,613.2L360.7,618.7L365.7,619.9L370.7,614.0L375.8,607.3L380.8,602.3L387.5,600.2L394.2,600.2L399.3,599.2L404.3,595.5L410.7,583.2L416.4,571.8L422.2,564.1L429.8,560.3L439.3,556.5L448.9,549.8L458.4,541.2L467.9,530.7L475.6,527.9L481.3,525.0L488.9,525.6L496.6,520.3L505.1,515.5L509.0,518.4L513.7,526.0L519.4,543.1L527.1,558.4L534.7,572.7L540.4,586.1L544.8,587.1L551.5,579.4L559.1,576.6L566.7,571.8L573.4,562.3L579.1,554.6L585.8,551.2L593.4,552.7L601.1,556.9L608.7,555.0L616.3,553.7L624.0,555.6L633.5,555.0L643.1,555.0L650.7,550.8L657.4,547.0L664.0,549.8L669.8,555.0L675.5,561.3L682.2,569.9L685.0,576.0L690.7,585.2L696.5,593.7L702.2,600.0L708.3,605.2L713.6,596.6L721.3,584.2L728.9,580.4L736.5,578.5L744.2,579.8L751.8,575.6L759.4,571.4L768.9,570.3L776.6,564.2L784.2,561.3L791.9,558.4L797.6,558.1L805.2,561.3L812.9,564.2L822.4,567.0L830.0,568.0" stroke="#4a1ab8" stroke-width="1.1" fill="none"/><path d="M0.0,593.0L3.4,593.9L6.7,591.8L9.2,593.5L11.8,591.3L15.9,591.3L18.1,583.5L23.5,582.4L26.9,583.5L29.4,585.5L32.7,585.5L36.9,573.7L41.1,564.5L44.5,553.6L48.7,546.0L51.2,550.2L53.7,549.9L55.4,551.6L59.6,551.1L62.4,549.4L63.8,550.6L65.5,548.5L70.5,556.9L74.7,564.5L78.9,570.4L82.3,579.6L85.6,570.4L89.0,564.5L92.3,553.6L95.7,541.8L99.9,534.3L103.2,540.1L104.9,544.8L107.4,545.2L111.6,545.2L113.8,543.5L117.5,555.3L120.9,557.3L125.1,560.6L127.6,558.6L130.9,558.6L134.3,568.7L136.8,583.8L140.0,588.0L142.6,592.5L146.8,593.9L151.0,595.9L153.5,595.5L158.5,600.2L164.4,604.3L169.4,598.1L172.8,597.2L176.1,591.8L182.8,586.3L187.9,590.8L194.6,589.2L198.0,587.5L203.0,586.8L206.3,592.5L208.9,599.7L215.2,605.3L218.9,596.4L222.3,587.1L226.5,575.4L230.7,567.8L233.2,557.8L235.7,545.2L239.9,531.8L244.1,524.2L249.2,520.0L253.4,526.7L259.2,530.1L262.6,538.5L265.9,540.1L269.3,543.5L271.8,552.7L275.0,558.6L280.1,564.5L283.4,572.0L286.8,577.9L290.1,577.9L293.5,570.4L296.9,564.0L301.1,562.8L304.4,560.3L308.6,565.0L313.6,564.5L317.8,565.0L322.0,570.4L327.1,579.6L332.1,586.3L337.1,591.3L340.5,600.6L346.4,609.0L352.3,618.2L357.3,623.2L361.5,622.4L365.7,620.7L369.0,609.0L371.6,602.3L375.8,595.5L380.8,597.6L385.0,596.4L387.5,598.9L393.4,601.9L398.4,599.7L402.6,594.7L405.0,588.9L407.9,574.6L412.6,566.0L417.4,558.4L421.2,558.4L427.9,560.3L433.6,556.1L441.2,553.6L445.1,547.9L450.8,540.3L456.5,536.5L463.2,528.8L467.9,523.7L471.8,528.8L477.5,521.8L482.2,523.1L488.0,526.9L492.7,524.1L495.6,516.1L500.4,511.7L506.1,514.2L509.9,520.3L513.7,537.4L518.5,564.1L523.3,566.0L527.1,570.8L530.9,583.2L536.6,594.6L540.0,593.7L543.8,585.2L548.6,573.7L552.4,572.2L555.3,574.7L559.1,577.5L562.9,572.7L568.6,566.1L572.4,554.6L576.3,547.0L580.1,546.0L583.9,549.8L587.7,549.8L593.4,554.6L598.2,558.4L603.0,558.4L607.7,553.7L611.6,550.4L616.3,553.7L622.1,556.5L629.7,555.0L637.3,555.6L643.1,555.0L646.9,545.1L650.3,543.2L654.5,545.1L660.2,549.3L666.0,555.0L671.7,564.2L677.4,568.9L682.2,576.6L685.0,587.1L687.9,594.7L692.6,600.4L698.4,605.2L702.2,608.1L705.6,612.3L708.9,604.2L713.6,589.9L717.4,581.3L721.6,574.7L726.0,581.0L730.8,576.6L735.6,578.5L740.3,579.4L745.7,582.3L750.8,572.7L754.7,569.5L758.5,570.8L762.3,569.9L768.0,569.9L772.8,564.2L778.5,560.3L781.4,561.9L786.1,556.5L791.9,557.5L797.6,558.8L805.2,564.2L810.9,563.2L818.6,568.0L824.3,568.0L830.0,568.0" stroke="#103838" stroke-width="1.1" fill="none"/></g><path d="M0.5,372.5V0.5H830" stroke="#b8b8b8" stroke-width="1" fill="none"/><line x1="0" y1="372.5" x2="830" y2="372.5" stroke="#b8b8b8" stroke-width="1"/><line x1="830.5" y1="0" x2="830.5" y2="373" stroke="#888" stroke-width="1"/><path d="M0.5,501.5V377.5H830" stroke="#b8b8b8" stroke-width="1" fill="none"/><line x1="0" y1="501.5" x2="830" y2="501.5" stroke="#b8b8b8" stroke-width="1"/><line x1="830.5" y1="377" x2="830.5" y2="502" stroke="#888" stroke-width="1"/><path d="M0.5,630.5V506.5H830" stroke="#b8b8b8" stroke-width="1" fill="none"/><line x1="0" y1="630.5" x2="830" y2="630.5" stroke="#8c8c8c" stroke-width="1"/><line x1="830.5" y1="506" x2="830.5" y2="631" stroke="#888" stroke-width="1"/><line x1="831" y1="15.5" x2="833" y2="15.5" stroke="#888" stroke-width="1"/><text x="836.5" y="19.5" font-family="'DejaVu Sans','Liberation Sans',sans-serif" font-size="11" fill="#000">14.00</text><line x1="831" y1="28.5" x2="833" y2="28.5" stroke="#888" stroke-width="1"/><line x1="831" y1="43.5" x2="833" y2="43.5" stroke="#888" stroke-width="1"/><text x="836.5" y="47.5" font-family="'DejaVu Sans','Liberation Sans',sans-serif" font-size="11" fill="#000">12.00</text><line x1="831" y1="58.5" x2="833" y2="58.5" stroke="#888" stroke-width="1"/><line x1="831" y1="75.5" x2="833" y2="75.5" stroke="#888" stroke-width="1"/><text x="836.5" y="79.5" font-family="'DejaVu Sans','Liberation Sans',sans-serif" font-size="11" fill="#000">10.00</text><line x1="831" y1="94.5" x2="833" y2="94.5" stroke="#888" stroke-width="1"/><text x="836.5" y="98.5" font-family="'DejaVu Sans','Liberation Sans',sans-serif" font-size="11" fill="#000">9.00</text><line x1="831" y1="116.5" x2="833" y2="116.5" stroke="#888" stroke-width="1"/><text x="836.5" y="120.5" font-family="'DejaVu Sans','Liberation Sans',sans-serif" font-size="11" fill="#000">8.00</text><line x1="831" y1="140.5" x2="833" y2="140.5" stroke="#888" stroke-width="1"/><text x="836.5" y="144.5" font-family="'DejaVu Sans','Liberation Sans',sans-serif" font-size="11" fill="#000">7.00</text><line x1="831" y1="167.5" x2="833" y2="167.5" stroke="#888" stroke-width="1"/><text x="836.5" y="171.5" font-family="'DejaVu Sans','Liberation Sans',sans-serif" font-size="11" fill="#000">6.00</text><line x1="831" y1="200.5" x2="833" y2="200.5" stroke="#888" stroke-width="1"/><text x="836.5" y="204.5" font-family="'DejaVu Sans','Liberation Sans',sans-serif" font-size="11" fill="#000">5.00</text><line x1="831" y1="240.5" x2="833" y2="240.5" stroke="#888" stroke-width="1"/><text x="836.5" y="244.5" font-family="'DejaVu Sans','Liberation Sans',sans-serif" font-size="11" fill="#000">4.00</text><line x1="831" y1="292.5" x2="833" y2="292.5" stroke="#888" stroke-width="1"/><text x="836.5" y="296.5" font-family="'DejaVu Sans','Liberation Sans',sans-serif" font-size="11" fill="#000">3.00</text><line x1="831" y1="401.5" x2="833" y2="401.5" stroke="#888" stroke-width="1"/><text x="836.5" y="405.5" font-family="'DejaVu Sans','Liberation Sans',sans-serif" font-size="11" fill="#000">80</text><line x1="831" y1="426.5" x2="833" y2="426.5" stroke="#888" stroke-width="1"/><text x="836.5" y="430.5" font-family="'DejaVu Sans','Liberation Sans',sans-serif" font-size="11" fill="#000">60</text><line x1="831" y1="451.5" x2="833" y2="451.5" stroke="#888" stroke-width="1"/><text x="836.5" y="455.5" font-family="'DejaVu Sans','Liberation Sans',sans-serif" font-size="11" fill="#000">40</text><line x1="831" y1="476.5" x2="833" y2="476.5" stroke="#888" stroke-width="1"/><text x="836.5" y="480.5" font-family="'DejaVu Sans','Liberation Sans',sans-serif" font-size="11" fill="#000">20</text><line x1="831" y1="533.5" x2="833" y2="533.5" stroke="#888" stroke-width="1"/><text x="836.5" y="537.5" font-family="'DejaVu Sans','Liberation Sans',sans-serif" font-size="11" fill="#000">0.25</text><line x1="831" y1="556.5" x2="833" y2="556.5" stroke="#888" stroke-width="1"/><text x="836.5" y="560.5" font-family="'DejaVu Sans','Liberation Sans',sans-serif" font-size="11" fill="#000">0.00</text><line x1="831" y1="579.5" x2="833" y2="579.5" stroke="#888" stroke-width="1"/><text x="836.5" y="583.5" font-family="'DejaVu Sans','Liberation Sans',sans-serif" font-size="11" fill="#000">-0.25</text><line x1="831" y1="603.5" x2="833" y2="603.5" stroke="#888" stroke-width="1"/><text x="836.5" y="607.5" font-family="'DejaVu Sans','Liberation Sans',sans-serif" font-size="11" fill="#000">-0.50</text><line x1="41.5" y1="631" x2="41.5" y2="633" stroke="#888" stroke-width="1"/><text x="41.5" y="645" font-family="'DejaVu Sans','Liberation Sans',sans-serif" font-size="11" letter-spacing="0.25" fill="#000" text-anchor="middle">Jan &#39;14</text><line x1="107.5" y1="631" x2="107.5" y2="633" stroke="#888" stroke-width="1"/><text x="107.5" y="645" font-family="'DejaVu Sans','Liberation Sans',sans-serif" font-size="11" letter-spacing="0.25" fill="#000" text-anchor="middle">Mar &#39;14</text><line x1="176.5" y1="631" x2="176.5" y2="633" stroke="#888" stroke-width="1"/><text x="176.5" y="645" font-family="'DejaVu Sans','Liberation Sans',sans-serif" font-size="11" letter-spacing="0.25" fill="#000" text-anchor="middle">May &#39;14</text><line x1="245.5" y1="631" x2="245.5" y2="633" stroke="#888" stroke-width="1"/><text x="245.5" y="645" font-family="'DejaVu Sans','Liberation Sans',sans-serif" font-size="11" letter-spacing="0.25" fill="#000" text-anchor="middle">Jul &#39;14</text><line x1="316.5" y1="631" x2="316.5" y2="633" stroke="#888" stroke-width="1"/><text x="316.5" y="645" font-family="'DejaVu Sans','Liberation Sans',sans-serif" font-size="11" letter-spacing="0.25" fill="#000" text-anchor="middle">Sep &#39;14</text><line x1="389.5" y1="631" x2="389.5" y2="633" stroke="#888" stroke-width="1"/><text x="389.5" y="645" font-family="'DejaVu Sans','Liberation Sans',sans-serif" font-size="11" letter-spacing="0.25" fill="#000" text-anchor="middle">Nov &#39;14</text><line x1="457.5" y1="631" x2="457.5" y2="633" stroke="#888" stroke-width="1"/><text x="457.5" y="645" font-family="'DejaVu Sans','Liberation Sans',sans-serif" font-size="11" letter-spacing="0.25" fill="#000" text-anchor="middle">Jan &#39;15</text><line x1="521.5" y1="631" x2="521.5" y2="633" stroke="#888" stroke-width="1"/><text x="521.5" y="645" font-family="'DejaVu Sans','Liberation Sans',sans-serif" font-size="11" letter-spacing="0.25" fill="#000" text-anchor="middle">Mar &#39;15</text><line x1="592.5" y1="631" x2="592.5" y2="633" stroke="#888" stroke-width="1"/><text x="592.5" y="645" font-family="'DejaVu Sans','Liberation Sans',sans-serif" font-size="11" letter-spacing="0.25" fill="#000" text-anchor="middle">May &#39;15</text><line x1="661.5" y1="631" x2="661.5" y2="633" stroke="#888" stroke-width="1"/><text x="661.5" y="645" font-family="'DejaVu Sans','Liberation Sans',sans-serif" font-size="11" letter-spacing="0.25" fill="#000" text-anchor="middle">Jul &#39;15</text><line x1="732.5" y1="631" x2="732.5" y2="633" stroke="#888" stroke-width="1"/><text x="732.5" y="645" font-family="'DejaVu Sans','Liberation Sans',sans-serif" font-size="11" letter-spacing="0.25" fill="#000" text-anchor="middle">Sep &#39;15</text><line x1="803.5" y1="631" x2="803.5" y2="633" stroke="#888" stroke-width="1"/><text x="803.5" y="645" font-family="'DejaVu Sans','Liberation Sans',sans-serif" font-size="11" letter-spacing="0.25" fill="#000" text-anchor="middle">Nov &#39;15</text></svg></body></html>
